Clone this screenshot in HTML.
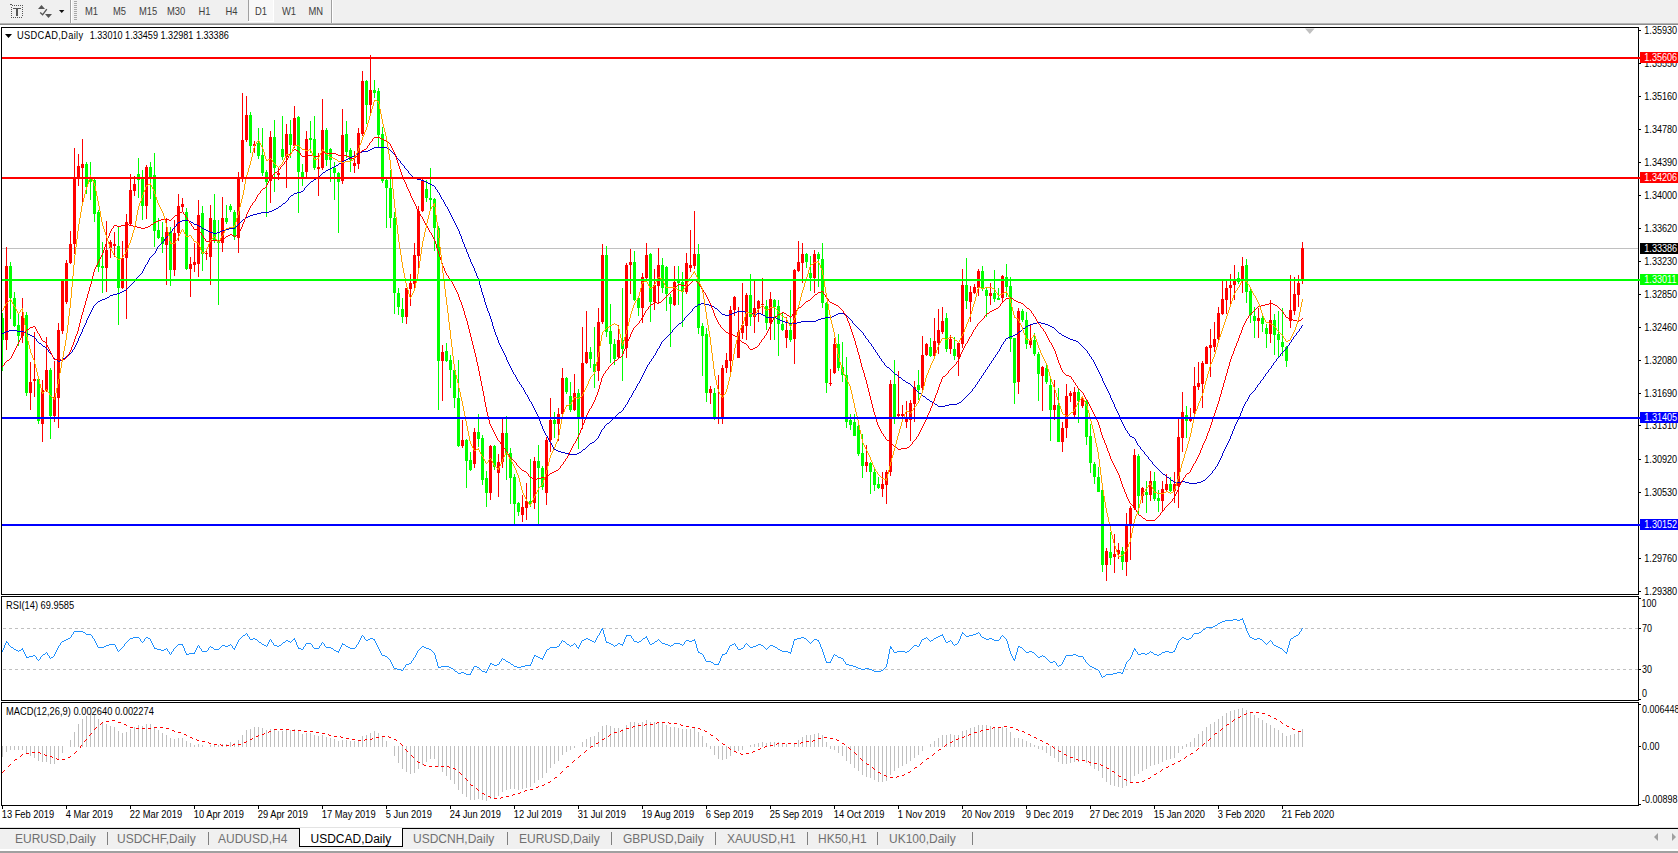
<!DOCTYPE html>
<html><head><meta charset="utf-8"><title>USDCAD,Daily</title>
<style>html,body{margin:0;padding:0;background:#fff;overflow:hidden}body{width:1678px;height:853px;position:relative;font-family:"Liberation Sans",sans-serif}</style>
</head><body>
<svg width="1678" height="853" viewBox="0 0 1678 853" style="position:absolute;left:0;top:0;display:block">
<g shape-rendering="crispEdges">
<rect x="0" y="0" width="1678" height="853" fill="#ffffff"/>
<rect x="0" y="0" width="1678" height="23" fill="#f0f0f0"/>
<rect x="0" y="23" width="1678" height="1" fill="#b4b4b4"/>
<rect x="0" y="24" width="1678" height="1" fill="#8c8c8c"/>
<rect x="0" y="25" width="1678" height="2" fill="#ffffff"/>
<rect x="0" y="827" width="1678" height="1" fill="#e3e3e3"/>
<rect x="0" y="828" width="1678" height="1" fill="#000000"/>
<rect x="0" y="829" width="1678" height="20" fill="#f0f0f0"/>
<rect x="0" y="849" width="1678" height="2" fill="#ffffff"/>
<rect x="0" y="851" width="1678" height="2" fill="#a0a0a0"/>
<clipPath id="cm"><rect x="2" y="28" width="1636" height="566"/></clipPath>
<g clip-path="url(#cm)">
<rect x="2" y="248" width="1636" height="1" fill="#c0c0c0"/>
<rect x="2" y="313" width="1" height="58" fill="#00ff00"/>
<rect x="1" y="318" width="3" height="22" fill="#00ff00"/>
<rect x="6" y="247" width="1" height="103" fill="#ff0000"/>
<rect x="5" y="266" width="3" height="74" fill="#ff0000"/>
<rect x="10" y="262" width="1" height="57" fill="#00ff00"/>
<rect x="9" y="266" width="3" height="32" fill="#00ff00"/>
<rect x="14" y="292" width="1" height="35" fill="#00ff00"/>
<rect x="13" y="298" width="3" height="28" fill="#00ff00"/>
<rect x="18" y="313" width="1" height="33" fill="#00ff00"/>
<rect x="17" y="325" width="3" height="11" fill="#00ff00"/>
<rect x="22" y="298" width="1" height="45" fill="#ff0000"/>
<rect x="21" y="316" width="3" height="20" fill="#ff0000"/>
<rect x="26" y="312" width="1" height="84" fill="#00ff00"/>
<rect x="25" y="315" width="3" height="78" fill="#00ff00"/>
<rect x="30" y="362" width="1" height="48" fill="#ff0000"/>
<rect x="29" y="382" width="3" height="11" fill="#ff0000"/>
<rect x="34" y="332" width="1" height="65" fill="#ff0000"/>
<rect x="33" y="379" width="3" height="2" fill="#ff0000"/>
<rect x="38" y="377" width="1" height="47" fill="#00ff00"/>
<rect x="37" y="379" width="3" height="42" fill="#00ff00"/>
<rect x="42" y="380" width="1" height="62" fill="#ff0000"/>
<rect x="41" y="390" width="3" height="34" fill="#ff0000"/>
<rect x="46" y="337" width="1" height="55" fill="#ff0000"/>
<rect x="45" y="370" width="3" height="20" fill="#ff0000"/>
<rect x="50" y="368" width="1" height="71" fill="#00ff00"/>
<rect x="49" y="370" width="3" height="46" fill="#00ff00"/>
<rect x="54" y="361" width="1" height="61" fill="#ff0000"/>
<rect x="53" y="397" width="3" height="19" fill="#ff0000"/>
<rect x="58" y="323" width="1" height="105" fill="#ff0000"/>
<rect x="57" y="330" width="3" height="68" fill="#ff0000"/>
<rect x="62" y="279" width="1" height="55" fill="#ff0000"/>
<rect x="61" y="280" width="3" height="51" fill="#ff0000"/>
<rect x="66" y="260" width="1" height="44" fill="#ff0000"/>
<rect x="65" y="263" width="3" height="39" fill="#ff0000"/>
<rect x="70" y="231" width="1" height="33" fill="#ff0000"/>
<rect x="69" y="244" width="3" height="19" fill="#ff0000"/>
<rect x="74" y="148" width="1" height="106" fill="#ff0000"/>
<rect x="73" y="177" width="3" height="67" fill="#ff0000"/>
<rect x="78" y="154" width="1" height="32" fill="#ff0000"/>
<rect x="77" y="166" width="3" height="13" fill="#ff0000"/>
<rect x="82" y="139" width="1" height="63" fill="#ff0000"/>
<rect x="81" y="164" width="3" height="4" fill="#ff0000"/>
<rect x="86" y="162" width="1" height="32" fill="#00ff00"/>
<rect x="85" y="164" width="3" height="23" fill="#00ff00"/>
<rect x="90" y="162" width="1" height="38" fill="#00ff00"/>
<rect x="89" y="177" width="3" height="5" fill="#00ff00"/>
<rect x="94" y="177" width="1" height="45" fill="#00ff00"/>
<rect x="93" y="180" width="3" height="34" fill="#00ff00"/>
<rect x="98" y="210" width="1" height="62" fill="#00ff00"/>
<rect x="97" y="212" width="3" height="55" fill="#00ff00"/>
<rect x="102" y="242" width="1" height="51" fill="#00ff00"/>
<rect x="101" y="266" width="3" height="2" fill="#00ff00"/>
<rect x="106" y="221" width="1" height="71" fill="#ff0000"/>
<rect x="105" y="250" width="3" height="18" fill="#ff0000"/>
<rect x="110" y="240" width="1" height="18" fill="#ff0000"/>
<rect x="109" y="242" width="3" height="6" fill="#ff0000"/>
<rect x="114" y="232" width="1" height="25" fill="#ff0000"/>
<rect x="113" y="244" width="3" height="2" fill="#ff0000"/>
<rect x="118" y="226" width="1" height="99" fill="#00ff00"/>
<rect x="117" y="246" width="3" height="42" fill="#00ff00"/>
<rect x="122" y="241" width="1" height="48" fill="#ff0000"/>
<rect x="121" y="258" width="3" height="30" fill="#ff0000"/>
<rect x="126" y="214" width="1" height="105" fill="#ff0000"/>
<rect x="125" y="222" width="3" height="36" fill="#ff0000"/>
<rect x="130" y="174" width="1" height="52" fill="#ff0000"/>
<rect x="129" y="190" width="3" height="34" fill="#ff0000"/>
<rect x="134" y="176" width="1" height="20" fill="#ff0000"/>
<rect x="133" y="184" width="3" height="7" fill="#ff0000"/>
<rect x="138" y="158" width="1" height="40" fill="#00ff00"/>
<rect x="137" y="174" width="3" height="6" fill="#00ff00"/>
<rect x="142" y="170" width="1" height="50" fill="#00ff00"/>
<rect x="141" y="178" width="3" height="28" fill="#00ff00"/>
<rect x="146" y="165" width="1" height="54" fill="#ff0000"/>
<rect x="145" y="167" width="3" height="39" fill="#ff0000"/>
<rect x="150" y="162" width="1" height="37" fill="#00ff00"/>
<rect x="149" y="167" width="3" height="10" fill="#00ff00"/>
<rect x="154" y="153" width="1" height="94" fill="#00ff00"/>
<rect x="153" y="175" width="3" height="56" fill="#00ff00"/>
<rect x="158" y="218" width="1" height="21" fill="#00ff00"/>
<rect x="157" y="230" width="3" height="8" fill="#00ff00"/>
<rect x="162" y="222" width="1" height="31" fill="#00ff00"/>
<rect x="161" y="237" width="3" height="7" fill="#00ff00"/>
<rect x="166" y="218" width="1" height="67" fill="#ff0000"/>
<rect x="165" y="232" width="3" height="13" fill="#ff0000"/>
<rect x="170" y="227" width="1" height="59" fill="#00ff00"/>
<rect x="169" y="232" width="3" height="38" fill="#00ff00"/>
<rect x="174" y="220" width="1" height="56" fill="#ff0000"/>
<rect x="173" y="233" width="3" height="37" fill="#ff0000"/>
<rect x="178" y="194" width="1" height="47" fill="#ff0000"/>
<rect x="177" y="206" width="3" height="27" fill="#ff0000"/>
<rect x="182" y="198" width="1" height="13" fill="#ff0000"/>
<rect x="181" y="204" width="3" height="3" fill="#ff0000"/>
<rect x="186" y="208" width="1" height="62" fill="#00ff00"/>
<rect x="185" y="212" width="3" height="57" fill="#00ff00"/>
<rect x="190" y="257" width="1" height="40" fill="#ff0000"/>
<rect x="189" y="264" width="3" height="5" fill="#ff0000"/>
<rect x="194" y="243" width="1" height="29" fill="#ff0000"/>
<rect x="193" y="262" width="3" height="3" fill="#ff0000"/>
<rect x="198" y="200" width="1" height="77" fill="#ff0000"/>
<rect x="197" y="215" width="3" height="49" fill="#ff0000"/>
<rect x="202" y="206" width="1" height="65" fill="#00ff00"/>
<rect x="201" y="213" width="3" height="41" fill="#00ff00"/>
<rect x="206" y="249" width="1" height="11" fill="#ff0000"/>
<rect x="205" y="253" width="3" height="1" fill="#ff0000"/>
<rect x="210" y="205" width="1" height="80" fill="#ff0000"/>
<rect x="209" y="218" width="3" height="39" fill="#ff0000"/>
<rect x="214" y="194" width="1" height="49" fill="#00ff00"/>
<rect x="213" y="220" width="3" height="21" fill="#00ff00"/>
<rect x="218" y="220" width="1" height="85" fill="#00ff00"/>
<rect x="217" y="240" width="3" height="3" fill="#00ff00"/>
<rect x="222" y="197" width="1" height="55" fill="#ff0000"/>
<rect x="221" y="218" width="3" height="25" fill="#ff0000"/>
<rect x="226" y="205" width="1" height="19" fill="#00ff00"/>
<rect x="225" y="218" width="3" height="4" fill="#00ff00"/>
<rect x="230" y="204" width="1" height="8" fill="#00ff00"/>
<rect x="229" y="206" width="3" height="4" fill="#00ff00"/>
<rect x="234" y="210" width="1" height="30" fill="#00ff00"/>
<rect x="233" y="212" width="3" height="25" fill="#00ff00"/>
<rect x="238" y="172" width="1" height="81" fill="#ff0000"/>
<rect x="237" y="178" width="3" height="60" fill="#ff0000"/>
<rect x="242" y="93" width="1" height="89" fill="#ff0000"/>
<rect x="241" y="140" width="3" height="39" fill="#ff0000"/>
<rect x="246" y="96" width="1" height="46" fill="#ff0000"/>
<rect x="245" y="115" width="3" height="25" fill="#ff0000"/>
<rect x="250" y="112" width="1" height="41" fill="#00ff00"/>
<rect x="249" y="115" width="3" height="31" fill="#00ff00"/>
<rect x="254" y="141" width="1" height="12" fill="#ff0000"/>
<rect x="253" y="144" width="3" height="2" fill="#ff0000"/>
<rect x="258" y="128" width="1" height="31" fill="#00ff00"/>
<rect x="257" y="143" width="3" height="13" fill="#00ff00"/>
<rect x="262" y="128" width="1" height="48" fill="#00ff00"/>
<rect x="261" y="155" width="3" height="18" fill="#00ff00"/>
<rect x="266" y="170" width="1" height="47" fill="#00ff00"/>
<rect x="265" y="172" width="3" height="10" fill="#00ff00"/>
<rect x="270" y="131" width="1" height="72" fill="#ff0000"/>
<rect x="269" y="137" width="3" height="44" fill="#ff0000"/>
<rect x="274" y="120" width="1" height="72" fill="#00ff00"/>
<rect x="273" y="137" width="3" height="31" fill="#00ff00"/>
<rect x="278" y="167" width="1" height="13" fill="#ff0000"/>
<rect x="277" y="173" width="3" height="2" fill="#ff0000"/>
<rect x="282" y="116" width="1" height="44" fill="#00ff00"/>
<rect x="281" y="149" width="3" height="8" fill="#00ff00"/>
<rect x="286" y="124" width="1" height="64" fill="#ff0000"/>
<rect x="285" y="134" width="3" height="23" fill="#ff0000"/>
<rect x="290" y="120" width="1" height="38" fill="#00ff00"/>
<rect x="289" y="134" width="3" height="11" fill="#00ff00"/>
<rect x="294" y="106" width="1" height="42" fill="#ff0000"/>
<rect x="293" y="118" width="3" height="28" fill="#ff0000"/>
<rect x="298" y="116" width="1" height="97" fill="#00ff00"/>
<rect x="297" y="117" width="3" height="55" fill="#00ff00"/>
<rect x="302" y="164" width="1" height="22" fill="#00ff00"/>
<rect x="301" y="172" width="3" height="5" fill="#00ff00"/>
<rect x="306" y="131" width="1" height="48" fill="#ff0000"/>
<rect x="305" y="139" width="3" height="33" fill="#ff0000"/>
<rect x="310" y="121" width="1" height="32" fill="#00ff00"/>
<rect x="309" y="138" width="3" height="2" fill="#00ff00"/>
<rect x="314" y="116" width="1" height="54" fill="#00ff00"/>
<rect x="313" y="139" width="3" height="29" fill="#00ff00"/>
<rect x="318" y="153" width="1" height="43" fill="#ff0000"/>
<rect x="317" y="167" width="3" height="2" fill="#ff0000"/>
<rect x="322" y="99" width="1" height="71" fill="#ff0000"/>
<rect x="321" y="130" width="3" height="38" fill="#ff0000"/>
<rect x="326" y="128" width="1" height="38" fill="#00ff00"/>
<rect x="325" y="130" width="3" height="30" fill="#00ff00"/>
<rect x="330" y="148" width="1" height="34" fill="#00ff00"/>
<rect x="329" y="149" width="3" height="11" fill="#00ff00"/>
<rect x="334" y="162" width="1" height="38" fill="#00ff00"/>
<rect x="333" y="168" width="3" height="5" fill="#00ff00"/>
<rect x="338" y="172" width="1" height="61" fill="#00ff00"/>
<rect x="337" y="173" width="3" height="9" fill="#00ff00"/>
<rect x="342" y="109" width="1" height="75" fill="#ff0000"/>
<rect x="341" y="135" width="3" height="46" fill="#ff0000"/>
<rect x="346" y="121" width="1" height="37" fill="#00ff00"/>
<rect x="345" y="134" width="3" height="18" fill="#00ff00"/>
<rect x="350" y="148" width="1" height="24" fill="#00ff00"/>
<rect x="349" y="150" width="3" height="10" fill="#00ff00"/>
<rect x="354" y="151" width="1" height="22" fill="#ff0000"/>
<rect x="353" y="163" width="3" height="3" fill="#ff0000"/>
<rect x="358" y="128" width="1" height="41" fill="#ff0000"/>
<rect x="357" y="133" width="3" height="31" fill="#ff0000"/>
<rect x="362" y="71" width="1" height="65" fill="#ff0000"/>
<rect x="361" y="81" width="3" height="53" fill="#ff0000"/>
<rect x="366" y="80" width="1" height="44" fill="#00ff00"/>
<rect x="365" y="81" width="3" height="24" fill="#00ff00"/>
<rect x="370" y="55" width="1" height="61" fill="#ff0000"/>
<rect x="369" y="90" width="3" height="15" fill="#ff0000"/>
<rect x="374" y="80" width="1" height="18" fill="#00ff00"/>
<rect x="373" y="90" width="3" height="3" fill="#00ff00"/>
<rect x="378" y="88" width="1" height="60" fill="#00ff00"/>
<rect x="377" y="91" width="3" height="44" fill="#00ff00"/>
<rect x="382" y="127" width="1" height="56" fill="#00ff00"/>
<rect x="381" y="134" width="3" height="47" fill="#00ff00"/>
<rect x="386" y="179" width="1" height="49" fill="#00ff00"/>
<rect x="385" y="180" width="3" height="8" fill="#00ff00"/>
<rect x="390" y="170" width="1" height="58" fill="#00ff00"/>
<rect x="389" y="188" width="3" height="30" fill="#00ff00"/>
<rect x="394" y="212" width="1" height="102" fill="#00ff00"/>
<rect x="393" y="218" width="3" height="75" fill="#00ff00"/>
<rect x="398" y="288" width="1" height="27" fill="#00ff00"/>
<rect x="397" y="293" width="3" height="14" fill="#00ff00"/>
<rect x="402" y="298" width="1" height="25" fill="#00ff00"/>
<rect x="401" y="309" width="3" height="8" fill="#00ff00"/>
<rect x="406" y="288" width="1" height="36" fill="#ff0000"/>
<rect x="405" y="288" width="3" height="29" fill="#ff0000"/>
<rect x="410" y="274" width="1" height="32" fill="#ff0000"/>
<rect x="409" y="283" width="3" height="6" fill="#ff0000"/>
<rect x="414" y="243" width="1" height="45" fill="#ff0000"/>
<rect x="413" y="255" width="3" height="29" fill="#ff0000"/>
<rect x="418" y="206" width="1" height="62" fill="#ff0000"/>
<rect x="417" y="211" width="3" height="45" fill="#ff0000"/>
<rect x="422" y="179" width="1" height="33" fill="#ff0000"/>
<rect x="421" y="180" width="3" height="31" fill="#ff0000"/>
<rect x="426" y="180" width="1" height="22" fill="#00ff00"/>
<rect x="425" y="189" width="3" height="9" fill="#00ff00"/>
<rect x="430" y="168" width="1" height="42" fill="#00ff00"/>
<rect x="429" y="198" width="3" height="2" fill="#00ff00"/>
<rect x="434" y="198" width="1" height="53" fill="#00ff00"/>
<rect x="433" y="199" width="3" height="29" fill="#00ff00"/>
<rect x="438" y="226" width="1" height="184" fill="#00ff00"/>
<rect x="437" y="228" width="3" height="133" fill="#00ff00"/>
<rect x="442" y="345" width="1" height="56" fill="#ff0000"/>
<rect x="441" y="352" width="3" height="9" fill="#ff0000"/>
<rect x="446" y="343" width="1" height="19" fill="#00ff00"/>
<rect x="445" y="351" width="3" height="10" fill="#00ff00"/>
<rect x="450" y="355" width="1" height="33" fill="#00ff00"/>
<rect x="449" y="360" width="3" height="10" fill="#00ff00"/>
<rect x="454" y="368" width="1" height="40" fill="#00ff00"/>
<rect x="453" y="370" width="3" height="28" fill="#00ff00"/>
<rect x="458" y="360" width="1" height="87" fill="#00ff00"/>
<rect x="457" y="398" width="3" height="48" fill="#00ff00"/>
<rect x="462" y="420" width="1" height="28" fill="#ff0000"/>
<rect x="461" y="440" width="3" height="6" fill="#ff0000"/>
<rect x="466" y="439" width="1" height="49" fill="#00ff00"/>
<rect x="465" y="440" width="3" height="21" fill="#00ff00"/>
<rect x="470" y="452" width="1" height="19" fill="#00ff00"/>
<rect x="469" y="460" width="3" height="10" fill="#00ff00"/>
<rect x="474" y="428" width="1" height="40" fill="#ff0000"/>
<rect x="473" y="432" width="3" height="32" fill="#ff0000"/>
<rect x="478" y="414" width="1" height="33" fill="#00ff00"/>
<rect x="477" y="432" width="3" height="7" fill="#00ff00"/>
<rect x="482" y="435" width="1" height="50" fill="#00ff00"/>
<rect x="481" y="438" width="3" height="42" fill="#00ff00"/>
<rect x="486" y="471" width="1" height="36" fill="#00ff00"/>
<rect x="485" y="478" width="3" height="15" fill="#00ff00"/>
<rect x="490" y="445" width="1" height="55" fill="#ff0000"/>
<rect x="489" y="446" width="3" height="47" fill="#ff0000"/>
<rect x="494" y="445" width="1" height="25" fill="#00ff00"/>
<rect x="493" y="446" width="3" height="21" fill="#00ff00"/>
<rect x="498" y="454" width="1" height="43" fill="#ff0000"/>
<rect x="497" y="462" width="3" height="11" fill="#ff0000"/>
<rect x="502" y="418" width="1" height="50" fill="#ff0000"/>
<rect x="501" y="433" width="3" height="29" fill="#ff0000"/>
<rect x="506" y="416" width="1" height="64" fill="#00ff00"/>
<rect x="505" y="433" width="3" height="20" fill="#00ff00"/>
<rect x="510" y="448" width="1" height="56" fill="#00ff00"/>
<rect x="509" y="453" width="3" height="25" fill="#00ff00"/>
<rect x="514" y="474" width="1" height="50" fill="#00ff00"/>
<rect x="513" y="477" width="3" height="27" fill="#00ff00"/>
<rect x="518" y="502" width="1" height="14" fill="#00ff00"/>
<rect x="517" y="503" width="3" height="9" fill="#00ff00"/>
<rect x="522" y="495" width="1" height="27" fill="#ff0000"/>
<rect x="521" y="507" width="3" height="8" fill="#ff0000"/>
<rect x="526" y="483" width="1" height="37" fill="#ff0000"/>
<rect x="525" y="501" width="3" height="7" fill="#ff0000"/>
<rect x="530" y="459" width="1" height="48" fill="#00ff00"/>
<rect x="529" y="501" width="3" height="3" fill="#00ff00"/>
<rect x="534" y="457" width="1" height="52" fill="#ff0000"/>
<rect x="533" y="461" width="3" height="42" fill="#ff0000"/>
<rect x="538" y="445" width="1" height="79" fill="#00ff00"/>
<rect x="537" y="461" width="3" height="7" fill="#00ff00"/>
<rect x="542" y="466" width="1" height="24" fill="#00ff00"/>
<rect x="541" y="468" width="3" height="19" fill="#00ff00"/>
<rect x="546" y="437" width="1" height="68" fill="#ff0000"/>
<rect x="545" y="440" width="3" height="53" fill="#ff0000"/>
<rect x="550" y="398" width="1" height="54" fill="#ff0000"/>
<rect x="549" y="420" width="3" height="20" fill="#ff0000"/>
<rect x="554" y="412" width="1" height="26" fill="#00ff00"/>
<rect x="553" y="420" width="3" height="4" fill="#00ff00"/>
<rect x="558" y="408" width="1" height="33" fill="#ff0000"/>
<rect x="557" y="414" width="3" height="10" fill="#ff0000"/>
<rect x="562" y="368" width="1" height="47" fill="#ff0000"/>
<rect x="561" y="378" width="3" height="36" fill="#ff0000"/>
<rect x="566" y="377" width="1" height="17" fill="#00ff00"/>
<rect x="565" y="378" width="3" height="14" fill="#00ff00"/>
<rect x="570" y="382" width="1" height="30" fill="#00ff00"/>
<rect x="569" y="396" width="3" height="14" fill="#00ff00"/>
<rect x="574" y="374" width="1" height="37" fill="#ff0000"/>
<rect x="573" y="393" width="3" height="17" fill="#ff0000"/>
<rect x="578" y="389" width="1" height="60" fill="#00ff00"/>
<rect x="577" y="393" width="3" height="24" fill="#00ff00"/>
<rect x="582" y="327" width="1" height="102" fill="#ff0000"/>
<rect x="581" y="363" width="3" height="55" fill="#ff0000"/>
<rect x="586" y="311" width="1" height="53" fill="#ff0000"/>
<rect x="585" y="352" width="3" height="11" fill="#ff0000"/>
<rect x="590" y="347" width="1" height="21" fill="#00ff00"/>
<rect x="589" y="352" width="3" height="7" fill="#00ff00"/>
<rect x="594" y="327" width="1" height="61" fill="#00ff00"/>
<rect x="593" y="364" width="3" height="8" fill="#00ff00"/>
<rect x="598" y="308" width="1" height="73" fill="#ff0000"/>
<rect x="597" y="322" width="3" height="49" fill="#ff0000"/>
<rect x="602" y="244" width="1" height="80" fill="#ff0000"/>
<rect x="601" y="255" width="3" height="67" fill="#ff0000"/>
<rect x="606" y="246" width="1" height="91" fill="#00ff00"/>
<rect x="605" y="255" width="3" height="77" fill="#00ff00"/>
<rect x="610" y="304" width="1" height="59" fill="#00ff00"/>
<rect x="609" y="331" width="3" height="13" fill="#00ff00"/>
<rect x="614" y="339" width="1" height="26" fill="#00ff00"/>
<rect x="613" y="344" width="3" height="15" fill="#00ff00"/>
<rect x="618" y="325" width="1" height="33" fill="#ff0000"/>
<rect x="617" y="340" width="3" height="17" fill="#ff0000"/>
<rect x="622" y="288" width="1" height="93" fill="#00ff00"/>
<rect x="621" y="340" width="3" height="9" fill="#00ff00"/>
<rect x="626" y="263" width="1" height="95" fill="#ff0000"/>
<rect x="625" y="265" width="3" height="83" fill="#ff0000"/>
<rect x="630" y="249" width="1" height="45" fill="#ff0000"/>
<rect x="629" y="262" width="3" height="3" fill="#ff0000"/>
<rect x="634" y="251" width="1" height="50" fill="#00ff00"/>
<rect x="633" y="262" width="3" height="38" fill="#00ff00"/>
<rect x="638" y="297" width="1" height="19" fill="#00ff00"/>
<rect x="637" y="298" width="3" height="10" fill="#00ff00"/>
<rect x="642" y="273" width="1" height="50" fill="#ff0000"/>
<rect x="641" y="277" width="3" height="31" fill="#ff0000"/>
<rect x="646" y="243" width="1" height="36" fill="#ff0000"/>
<rect x="645" y="255" width="3" height="23" fill="#ff0000"/>
<rect x="650" y="253" width="1" height="69" fill="#00ff00"/>
<rect x="649" y="254" width="3" height="48" fill="#00ff00"/>
<rect x="654" y="269" width="1" height="41" fill="#ff0000"/>
<rect x="653" y="285" width="3" height="17" fill="#ff0000"/>
<rect x="658" y="248" width="1" height="56" fill="#ff0000"/>
<rect x="657" y="265" width="3" height="21" fill="#ff0000"/>
<rect x="662" y="258" width="1" height="35" fill="#00ff00"/>
<rect x="661" y="265" width="3" height="23" fill="#00ff00"/>
<rect x="666" y="266" width="1" height="45" fill="#00ff00"/>
<rect x="665" y="267" width="3" height="27" fill="#00ff00"/>
<rect x="670" y="294" width="1" height="53" fill="#00ff00"/>
<rect x="669" y="297" width="3" height="7" fill="#00ff00"/>
<rect x="674" y="266" width="1" height="40" fill="#ff0000"/>
<rect x="673" y="282" width="3" height="23" fill="#ff0000"/>
<rect x="678" y="266" width="1" height="39" fill="#00ff00"/>
<rect x="677" y="281" width="3" height="2" fill="#00ff00"/>
<rect x="682" y="272" width="1" height="55" fill="#00ff00"/>
<rect x="681" y="282" width="3" height="10" fill="#00ff00"/>
<rect x="686" y="253" width="1" height="41" fill="#ff0000"/>
<rect x="685" y="263" width="3" height="29" fill="#ff0000"/>
<rect x="690" y="230" width="1" height="42" fill="#ff0000"/>
<rect x="689" y="265" width="3" height="3" fill="#ff0000"/>
<rect x="694" y="211" width="1" height="58" fill="#ff0000"/>
<rect x="693" y="254" width="3" height="12" fill="#ff0000"/>
<rect x="698" y="244" width="1" height="90" fill="#00ff00"/>
<rect x="697" y="254" width="3" height="74" fill="#00ff00"/>
<rect x="702" y="323" width="1" height="53" fill="#00ff00"/>
<rect x="701" y="326" width="3" height="10" fill="#00ff00"/>
<rect x="706" y="328" width="1" height="74" fill="#00ff00"/>
<rect x="705" y="334" width="3" height="59" fill="#00ff00"/>
<rect x="710" y="386" width="1" height="18" fill="#ff0000"/>
<rect x="709" y="389" width="3" height="4" fill="#ff0000"/>
<rect x="714" y="388" width="1" height="32" fill="#00ff00"/>
<rect x="713" y="393" width="3" height="26" fill="#00ff00"/>
<rect x="718" y="375" width="1" height="49" fill="#ff0000"/>
<rect x="717" y="418" width="3" height="1" fill="#ff0000"/>
<rect x="722" y="365" width="1" height="59" fill="#ff0000"/>
<rect x="721" y="368" width="3" height="51" fill="#ff0000"/>
<rect x="726" y="353" width="1" height="20" fill="#ff0000"/>
<rect x="725" y="360" width="3" height="8" fill="#ff0000"/>
<rect x="730" y="306" width="1" height="70" fill="#ff0000"/>
<rect x="729" y="310" width="3" height="51" fill="#ff0000"/>
<rect x="734" y="296" width="1" height="20" fill="#ff0000"/>
<rect x="733" y="297" width="3" height="13" fill="#ff0000"/>
<rect x="738" y="307" width="1" height="51" fill="#ff0000"/>
<rect x="737" y="332" width="3" height="26" fill="#ff0000"/>
<rect x="742" y="283" width="1" height="56" fill="#ff0000"/>
<rect x="741" y="325" width="3" height="8" fill="#ff0000"/>
<rect x="746" y="293" width="1" height="47" fill="#ff0000"/>
<rect x="745" y="295" width="3" height="31" fill="#ff0000"/>
<rect x="750" y="274" width="1" height="52" fill="#00ff00"/>
<rect x="749" y="295" width="3" height="22" fill="#00ff00"/>
<rect x="754" y="281" width="1" height="52" fill="#ff0000"/>
<rect x="753" y="308" width="3" height="9" fill="#ff0000"/>
<rect x="758" y="300" width="1" height="22" fill="#ff0000"/>
<rect x="757" y="301" width="3" height="8" fill="#ff0000"/>
<rect x="762" y="278" width="1" height="36" fill="#ff0000"/>
<rect x="761" y="304" width="3" height="1" fill="#ff0000"/>
<rect x="766" y="300" width="1" height="30" fill="#00ff00"/>
<rect x="765" y="306" width="3" height="17" fill="#00ff00"/>
<rect x="770" y="292" width="1" height="48" fill="#ff0000"/>
<rect x="769" y="299" width="3" height="24" fill="#ff0000"/>
<rect x="774" y="299" width="1" height="41" fill="#00ff00"/>
<rect x="773" y="300" width="3" height="7" fill="#00ff00"/>
<rect x="778" y="300" width="1" height="56" fill="#00ff00"/>
<rect x="777" y="306" width="3" height="18" fill="#00ff00"/>
<rect x="782" y="313" width="1" height="18" fill="#00ff00"/>
<rect x="781" y="324" width="3" height="6" fill="#00ff00"/>
<rect x="786" y="317" width="1" height="31" fill="#ff0000"/>
<rect x="785" y="330" width="3" height="8" fill="#ff0000"/>
<rect x="790" y="290" width="1" height="52" fill="#00ff00"/>
<rect x="789" y="330" width="3" height="10" fill="#00ff00"/>
<rect x="794" y="269" width="1" height="95" fill="#ff0000"/>
<rect x="793" y="270" width="3" height="69" fill="#ff0000"/>
<rect x="798" y="241" width="1" height="31" fill="#ff0000"/>
<rect x="797" y="262" width="3" height="9" fill="#ff0000"/>
<rect x="802" y="243" width="1" height="40" fill="#ff0000"/>
<rect x="801" y="254" width="3" height="9" fill="#ff0000"/>
<rect x="806" y="253" width="1" height="15" fill="#00ff00"/>
<rect x="805" y="254" width="3" height="8" fill="#00ff00"/>
<rect x="810" y="256" width="1" height="35" fill="#00ff00"/>
<rect x="809" y="273" width="3" height="5" fill="#00ff00"/>
<rect x="814" y="250" width="1" height="43" fill="#ff0000"/>
<rect x="813" y="254" width="3" height="24" fill="#ff0000"/>
<rect x="818" y="252" width="1" height="35" fill="#00ff00"/>
<rect x="817" y="254" width="3" height="5" fill="#00ff00"/>
<rect x="822" y="243" width="1" height="65" fill="#00ff00"/>
<rect x="821" y="259" width="3" height="44" fill="#00ff00"/>
<rect x="826" y="302" width="1" height="91" fill="#00ff00"/>
<rect x="825" y="303" width="3" height="80" fill="#00ff00"/>
<rect x="830" y="369" width="1" height="17" fill="#ff0000"/>
<rect x="829" y="383" width="3" height="1" fill="#ff0000"/>
<rect x="834" y="338" width="1" height="36" fill="#ff0000"/>
<rect x="833" y="344" width="3" height="29" fill="#ff0000"/>
<rect x="838" y="334" width="1" height="37" fill="#00ff00"/>
<rect x="837" y="344" width="3" height="24" fill="#00ff00"/>
<rect x="842" y="342" width="1" height="40" fill="#00ff00"/>
<rect x="841" y="367" width="3" height="8" fill="#00ff00"/>
<rect x="846" y="357" width="1" height="71" fill="#00ff00"/>
<rect x="845" y="375" width="3" height="47" fill="#00ff00"/>
<rect x="850" y="414" width="1" height="16" fill="#00ff00"/>
<rect x="849" y="420" width="3" height="5" fill="#00ff00"/>
<rect x="854" y="414" width="1" height="22" fill="#00ff00"/>
<rect x="853" y="422" width="3" height="14" fill="#00ff00"/>
<rect x="858" y="424" width="1" height="32" fill="#00ff00"/>
<rect x="857" y="426" width="3" height="28" fill="#00ff00"/>
<rect x="862" y="434" width="1" height="44" fill="#00ff00"/>
<rect x="861" y="453" width="3" height="13" fill="#00ff00"/>
<rect x="866" y="445" width="1" height="27" fill="#ff0000"/>
<rect x="865" y="462" width="3" height="4" fill="#ff0000"/>
<rect x="870" y="462" width="1" height="32" fill="#00ff00"/>
<rect x="869" y="463" width="3" height="9" fill="#00ff00"/>
<rect x="874" y="468" width="1" height="23" fill="#00ff00"/>
<rect x="873" y="472" width="3" height="13" fill="#00ff00"/>
<rect x="878" y="477" width="1" height="12" fill="#00ff00"/>
<rect x="877" y="484" width="3" height="4" fill="#00ff00"/>
<rect x="882" y="472" width="1" height="25" fill="#ff0000"/>
<rect x="881" y="484" width="3" height="5" fill="#ff0000"/>
<rect x="886" y="470" width="1" height="34" fill="#ff0000"/>
<rect x="885" y="472" width="3" height="13" fill="#ff0000"/>
<rect x="890" y="380" width="1" height="96" fill="#ff0000"/>
<rect x="889" y="384" width="3" height="88" fill="#ff0000"/>
<rect x="894" y="360" width="1" height="64" fill="#00ff00"/>
<rect x="893" y="384" width="3" height="33" fill="#00ff00"/>
<rect x="898" y="371" width="1" height="46" fill="#ff0000"/>
<rect x="897" y="414" width="3" height="2" fill="#ff0000"/>
<rect x="902" y="405" width="1" height="12" fill="#ff0000"/>
<rect x="901" y="414" width="3" height="2" fill="#ff0000"/>
<rect x="906" y="401" width="1" height="27" fill="#ff0000"/>
<rect x="905" y="418" width="3" height="4" fill="#ff0000"/>
<rect x="910" y="400" width="1" height="41" fill="#ff0000"/>
<rect x="909" y="403" width="3" height="17" fill="#ff0000"/>
<rect x="914" y="381" width="1" height="41" fill="#ff0000"/>
<rect x="913" y="387" width="3" height="17" fill="#ff0000"/>
<rect x="918" y="370" width="1" height="30" fill="#00ff00"/>
<rect x="917" y="385" width="3" height="5" fill="#00ff00"/>
<rect x="922" y="336" width="1" height="54" fill="#ff0000"/>
<rect x="921" y="355" width="3" height="33" fill="#ff0000"/>
<rect x="926" y="343" width="1" height="13" fill="#ff0000"/>
<rect x="925" y="344" width="3" height="11" fill="#ff0000"/>
<rect x="930" y="338" width="1" height="19" fill="#00ff00"/>
<rect x="929" y="347" width="3" height="9" fill="#00ff00"/>
<rect x="934" y="318" width="1" height="38" fill="#ff0000"/>
<rect x="933" y="341" width="3" height="15" fill="#ff0000"/>
<rect x="938" y="309" width="1" height="45" fill="#ff0000"/>
<rect x="937" y="330" width="3" height="13" fill="#ff0000"/>
<rect x="942" y="307" width="1" height="27" fill="#ff0000"/>
<rect x="941" y="321" width="3" height="11" fill="#ff0000"/>
<rect x="946" y="313" width="1" height="39" fill="#00ff00"/>
<rect x="945" y="318" width="3" height="31" fill="#00ff00"/>
<rect x="950" y="335" width="1" height="19" fill="#ff0000"/>
<rect x="949" y="339" width="3" height="10" fill="#ff0000"/>
<rect x="954" y="337" width="1" height="23" fill="#00ff00"/>
<rect x="953" y="349" width="3" height="7" fill="#00ff00"/>
<rect x="958" y="342" width="1" height="34" fill="#ff0000"/>
<rect x="957" y="343" width="3" height="14" fill="#ff0000"/>
<rect x="962" y="269" width="1" height="79" fill="#ff0000"/>
<rect x="961" y="285" width="3" height="59" fill="#ff0000"/>
<rect x="966" y="258" width="1" height="51" fill="#00ff00"/>
<rect x="965" y="285" width="3" height="16" fill="#00ff00"/>
<rect x="970" y="286" width="1" height="36" fill="#ff0000"/>
<rect x="969" y="292" width="3" height="10" fill="#ff0000"/>
<rect x="974" y="284" width="1" height="10" fill="#ff0000"/>
<rect x="973" y="287" width="3" height="6" fill="#ff0000"/>
<rect x="978" y="269" width="1" height="27" fill="#ff0000"/>
<rect x="977" y="271" width="3" height="17" fill="#ff0000"/>
<rect x="982" y="266" width="1" height="25" fill="#00ff00"/>
<rect x="981" y="271" width="3" height="17" fill="#00ff00"/>
<rect x="986" y="288" width="1" height="29" fill="#00ff00"/>
<rect x="985" y="290" width="3" height="6" fill="#00ff00"/>
<rect x="990" y="283" width="1" height="22" fill="#ff0000"/>
<rect x="989" y="293" width="3" height="3" fill="#ff0000"/>
<rect x="994" y="270" width="1" height="32" fill="#00ff00"/>
<rect x="993" y="293" width="3" height="6" fill="#00ff00"/>
<rect x="998" y="288" width="1" height="12" fill="#00ff00"/>
<rect x="997" y="298" width="3" height="2" fill="#00ff00"/>
<rect x="1002" y="275" width="1" height="27" fill="#ff0000"/>
<rect x="1001" y="276" width="3" height="22" fill="#ff0000"/>
<rect x="1006" y="264" width="1" height="33" fill="#00ff00"/>
<rect x="1005" y="277" width="3" height="10" fill="#00ff00"/>
<rect x="1010" y="277" width="1" height="75" fill="#00ff00"/>
<rect x="1009" y="286" width="3" height="53" fill="#00ff00"/>
<rect x="1014" y="338" width="1" height="66" fill="#00ff00"/>
<rect x="1013" y="338" width="3" height="45" fill="#00ff00"/>
<rect x="1018" y="308" width="1" height="86" fill="#ff0000"/>
<rect x="1017" y="311" width="3" height="71" fill="#ff0000"/>
<rect x="1022" y="309" width="1" height="13" fill="#00ff00"/>
<rect x="1021" y="311" width="3" height="9" fill="#00ff00"/>
<rect x="1026" y="312" width="1" height="37" fill="#00ff00"/>
<rect x="1025" y="320" width="3" height="24" fill="#00ff00"/>
<rect x="1030" y="325" width="1" height="23" fill="#ff0000"/>
<rect x="1029" y="340" width="3" height="5" fill="#ff0000"/>
<rect x="1034" y="333" width="1" height="23" fill="#00ff00"/>
<rect x="1033" y="340" width="3" height="14" fill="#00ff00"/>
<rect x="1038" y="352" width="1" height="49" fill="#00ff00"/>
<rect x="1037" y="354" width="3" height="20" fill="#00ff00"/>
<rect x="1042" y="366" width="1" height="45" fill="#ff0000"/>
<rect x="1041" y="367" width="3" height="9" fill="#ff0000"/>
<rect x="1046" y="364" width="1" height="20" fill="#00ff00"/>
<rect x="1045" y="368" width="3" height="14" fill="#00ff00"/>
<rect x="1050" y="379" width="1" height="62" fill="#00ff00"/>
<rect x="1049" y="385" width="3" height="25" fill="#00ff00"/>
<rect x="1054" y="380" width="1" height="40" fill="#ff0000"/>
<rect x="1053" y="405" width="3" height="5" fill="#ff0000"/>
<rect x="1058" y="388" width="1" height="54" fill="#00ff00"/>
<rect x="1057" y="405" width="3" height="37" fill="#00ff00"/>
<rect x="1062" y="422" width="1" height="30" fill="#ff0000"/>
<rect x="1061" y="428" width="3" height="14" fill="#ff0000"/>
<rect x="1066" y="384" width="1" height="54" fill="#ff0000"/>
<rect x="1065" y="396" width="3" height="32" fill="#ff0000"/>
<rect x="1070" y="391" width="1" height="11" fill="#ff0000"/>
<rect x="1069" y="393" width="3" height="3" fill="#ff0000"/>
<rect x="1074" y="387" width="1" height="30" fill="#ff0000"/>
<rect x="1073" y="392" width="3" height="23" fill="#ff0000"/>
<rect x="1078" y="388" width="1" height="35" fill="#00ff00"/>
<rect x="1077" y="392" width="3" height="9" fill="#00ff00"/>
<rect x="1082" y="396" width="1" height="12" fill="#ff0000"/>
<rect x="1081" y="399" width="3" height="7" fill="#ff0000"/>
<rect x="1086" y="399" width="1" height="46" fill="#00ff00"/>
<rect x="1085" y="401" width="3" height="36" fill="#00ff00"/>
<rect x="1090" y="424" width="1" height="49" fill="#00ff00"/>
<rect x="1089" y="436" width="3" height="27" fill="#00ff00"/>
<rect x="1094" y="462" width="1" height="22" fill="#00ff00"/>
<rect x="1093" y="464" width="3" height="13" fill="#00ff00"/>
<rect x="1098" y="467" width="1" height="25" fill="#00ff00"/>
<rect x="1097" y="477" width="3" height="15" fill="#00ff00"/>
<rect x="1102" y="489" width="1" height="83" fill="#00ff00"/>
<rect x="1101" y="490" width="3" height="75" fill="#00ff00"/>
<rect x="1106" y="548" width="1" height="33" fill="#ff0000"/>
<rect x="1105" y="551" width="3" height="14" fill="#ff0000"/>
<rect x="1110" y="532" width="1" height="33" fill="#00ff00"/>
<rect x="1109" y="552" width="3" height="6" fill="#00ff00"/>
<rect x="1114" y="534" width="1" height="39" fill="#ff0000"/>
<rect x="1113" y="554" width="3" height="3" fill="#ff0000"/>
<rect x="1118" y="543" width="1" height="16" fill="#ff0000"/>
<rect x="1117" y="550" width="3" height="4" fill="#ff0000"/>
<rect x="1122" y="547" width="1" height="23" fill="#00ff00"/>
<rect x="1121" y="551" width="3" height="11" fill="#00ff00"/>
<rect x="1126" y="513" width="1" height="63" fill="#ff0000"/>
<rect x="1125" y="524" width="3" height="38" fill="#ff0000"/>
<rect x="1130" y="506" width="1" height="54" fill="#ff0000"/>
<rect x="1129" y="508" width="3" height="18" fill="#ff0000"/>
<rect x="1134" y="449" width="1" height="61" fill="#ff0000"/>
<rect x="1133" y="455" width="3" height="53" fill="#ff0000"/>
<rect x="1138" y="454" width="1" height="60" fill="#00ff00"/>
<rect x="1137" y="456" width="3" height="40" fill="#00ff00"/>
<rect x="1142" y="487" width="1" height="16" fill="#ff0000"/>
<rect x="1141" y="488" width="3" height="8" fill="#ff0000"/>
<rect x="1146" y="481" width="1" height="32" fill="#00ff00"/>
<rect x="1145" y="492" width="3" height="3" fill="#00ff00"/>
<rect x="1150" y="471" width="1" height="30" fill="#ff0000"/>
<rect x="1149" y="481" width="3" height="14" fill="#ff0000"/>
<rect x="1154" y="472" width="1" height="29" fill="#00ff00"/>
<rect x="1153" y="481" width="3" height="18" fill="#00ff00"/>
<rect x="1158" y="490" width="1" height="22" fill="#00ff00"/>
<rect x="1157" y="498" width="3" height="3" fill="#00ff00"/>
<rect x="1162" y="481" width="1" height="30" fill="#ff0000"/>
<rect x="1161" y="489" width="3" height="12" fill="#ff0000"/>
<rect x="1166" y="474" width="1" height="18" fill="#ff0000"/>
<rect x="1165" y="484" width="3" height="6" fill="#ff0000"/>
<rect x="1170" y="477" width="1" height="15" fill="#00ff00"/>
<rect x="1169" y="484" width="3" height="7" fill="#00ff00"/>
<rect x="1174" y="472" width="1" height="31" fill="#ff0000"/>
<rect x="1173" y="484" width="3" height="7" fill="#ff0000"/>
<rect x="1178" y="418" width="1" height="90" fill="#ff0000"/>
<rect x="1177" y="437" width="3" height="49" fill="#ff0000"/>
<rect x="1182" y="392" width="1" height="60" fill="#ff0000"/>
<rect x="1181" y="412" width="3" height="26" fill="#ff0000"/>
<rect x="1186" y="406" width="1" height="32" fill="#00ff00"/>
<rect x="1185" y="415" width="3" height="6" fill="#00ff00"/>
<rect x="1190" y="408" width="1" height="14" fill="#ff0000"/>
<rect x="1189" y="419" width="3" height="2" fill="#ff0000"/>
<rect x="1194" y="367" width="1" height="47" fill="#ff0000"/>
<rect x="1193" y="386" width="3" height="27" fill="#ff0000"/>
<rect x="1198" y="362" width="1" height="28" fill="#ff0000"/>
<rect x="1197" y="383" width="3" height="4" fill="#ff0000"/>
<rect x="1202" y="361" width="1" height="47" fill="#ff0000"/>
<rect x="1201" y="363" width="3" height="21" fill="#ff0000"/>
<rect x="1206" y="346" width="1" height="18" fill="#ff0000"/>
<rect x="1205" y="347" width="3" height="17" fill="#ff0000"/>
<rect x="1210" y="329" width="1" height="48" fill="#ff0000"/>
<rect x="1209" y="345" width="3" height="3" fill="#ff0000"/>
<rect x="1214" y="322" width="1" height="30" fill="#ff0000"/>
<rect x="1213" y="339" width="3" height="8" fill="#ff0000"/>
<rect x="1218" y="307" width="1" height="33" fill="#ff0000"/>
<rect x="1217" y="313" width="3" height="26" fill="#ff0000"/>
<rect x="1222" y="281" width="1" height="34" fill="#ff0000"/>
<rect x="1221" y="299" width="3" height="15" fill="#ff0000"/>
<rect x="1226" y="281" width="1" height="33" fill="#ff0000"/>
<rect x="1225" y="288" width="3" height="12" fill="#ff0000"/>
<rect x="1230" y="274" width="1" height="30" fill="#ff0000"/>
<rect x="1229" y="285" width="3" height="3" fill="#ff0000"/>
<rect x="1234" y="265" width="1" height="35" fill="#ff0000"/>
<rect x="1233" y="281" width="3" height="4" fill="#ff0000"/>
<rect x="1238" y="272" width="1" height="12" fill="#00ff00"/>
<rect x="1237" y="278" width="3" height="4" fill="#00ff00"/>
<rect x="1242" y="257" width="1" height="36" fill="#ff0000"/>
<rect x="1241" y="266" width="3" height="15" fill="#ff0000"/>
<rect x="1246" y="259" width="1" height="44" fill="#00ff00"/>
<rect x="1245" y="265" width="3" height="27" fill="#00ff00"/>
<rect x="1250" y="289" width="1" height="34" fill="#00ff00"/>
<rect x="1249" y="291" width="3" height="24" fill="#00ff00"/>
<rect x="1254" y="307" width="1" height="31" fill="#00ff00"/>
<rect x="1253" y="316" width="3" height="5" fill="#00ff00"/>
<rect x="1258" y="308" width="1" height="30" fill="#ff0000"/>
<rect x="1257" y="318" width="3" height="3" fill="#ff0000"/>
<rect x="1262" y="316" width="1" height="16" fill="#00ff00"/>
<rect x="1261" y="318" width="3" height="6" fill="#00ff00"/>
<rect x="1266" y="324" width="1" height="24" fill="#00ff00"/>
<rect x="1265" y="328" width="3" height="6" fill="#00ff00"/>
<rect x="1270" y="300" width="1" height="43" fill="#ff0000"/>
<rect x="1269" y="320" width="3" height="14" fill="#ff0000"/>
<rect x="1274" y="314" width="1" height="41" fill="#00ff00"/>
<rect x="1273" y="320" width="3" height="15" fill="#00ff00"/>
<rect x="1278" y="311" width="1" height="46" fill="#00ff00"/>
<rect x="1277" y="334" width="3" height="6" fill="#00ff00"/>
<rect x="1282" y="308" width="1" height="48" fill="#00ff00"/>
<rect x="1281" y="342" width="3" height="5" fill="#00ff00"/>
<rect x="1286" y="346" width="1" height="21" fill="#00ff00"/>
<rect x="1285" y="347" width="3" height="14" fill="#00ff00"/>
<rect x="1290" y="275" width="1" height="53" fill="#ff0000"/>
<rect x="1289" y="310" width="3" height="11" fill="#ff0000"/>
<rect x="1294" y="277" width="1" height="38" fill="#ff0000"/>
<rect x="1293" y="294" width="3" height="17" fill="#ff0000"/>
<rect x="1298" y="275" width="1" height="32" fill="#ff0000"/>
<rect x="1297" y="283" width="3" height="12" fill="#ff0000"/>
<rect x="1302" y="242" width="1" height="42" fill="#ff0000"/>
<rect x="1301" y="248" width="3" height="31" fill="#ff0000"/>
<path d="M326 170.5h2M1028 325.5h2M1048 325.5h2M734 312.5h3M745 312.5h4M957 403.5h2M903 380.5h2M274 209.5h2M348 158.5h2M679 323.5h2M789 323.5h8M1033 323.5h4M1041 323.5h4M297 192.5h4M344 160.5h2M1132 437.5h2M39 343.5h2M9 330.5h8M2 333.5h2M26 333.5h2M1059 333.5h2M206 230.5h2M222 230.5h3M63 358.5h2M1026 326.5h2M1050 326.5h2M261 212.5h8M1130 436.5h2M124 290.5h2M1008 337.5h2M1066 337.5h2M250 215.5h3M283 203.5h2M4 332.5h2M24 332.5h2M1070 339.5h3M887 367.5h2M1073 340.5h3M374 147.5h13M55 359.5h2M899 377.5h2M1006 338.5h2M1068 338.5h2M737 311.5h8M208 231.5h2M220 231.5h2M32 336.5h2M1010 336.5h3M1064 336.5h2M246 217.5h2M923 396.5h2M362 151.5h6M421 180.5h3M554 449.5h2M583 449.5h2M766 317.5h10M825 317.5h7M695 306.5h2M712 306.5h2M430 184.5h2M785 322.5h4M797 322.5h4M1037 322.5h4M732 313.5h2M749 313.5h4M757 313.5h4M838 313.5h6M782 321.5h3M801 321.5h15M342 161.5h2M332 167.5h2M30 335.5h2M1013 335.5h2M1062 335.5h2M906 382.5h2M780 320.5h2M816 320.5h2M6 331.5h3M17 331.5h7M1019 331.5h2M1174 482.5h7M1185 482.5h4M1197 482.5h4M722 314.5h3M729 314.5h3M753 314.5h4M761 314.5h2M836 314.5h2M844 314.5h2M339 163.5h2M932 402.5h2M959 402.5h2M778 319.5h2M818 319.5h3M607 423.5h2M919 393.5h2M945 405.5h4M122 291.5h2M569 454.5h8M698 304.5h3M705 304.5h4M117 293.5h3M935 404.5h2M949 404.5h8M908 383.5h2M1076 341.5h2M927 399.5h2M107 297.5h2M1030 324.5h3M1045 324.5h3M1052 327.5h2M938 406.5h7M213 233.5h4M199 226.5h2M178 222.5h2M191 222.5h2M1181 481.5h4M1201 481.5h2M257 213.5h4M1171 480.5h2M1203 480.5h2M328 169.5h2M725 315.5h4M763 315.5h2M834 315.5h2M356 154.5h2M248 216.5h2M428 183.5h2M28 334.5h2M1015 334.5h2M619 412.5h2M895 374.5h2M832 316.5h2M334 166.5h2M930 401.5h2M60 360.5h2M1189 483.5h8M58 361.5h2M311 181.5h2M424 181.5h2M556 450.5h2M776 318.5h2M821 318.5h4M590 443.5h2M336 165.5h2M204 229.5h2M225 229.5h4M197 225.5h2M180 221.5h2M189 221.5h2M110 295.5h3M715 308.5h2M709 305.5h3M67 355.5h2M43 346.5h2M272 210.5h2M346 159.5h2M294 193.5h3M105 298.5h2M1023 328.5h2M368 150.5h2M120 292.5h2M202 228.5h2M229 228.5h6M565 453.5h4M577 453.5h2M279 206.5h2M243 219.5h2M194 224.5h3M354 155.5h2M113 294.5h4M432 185.5h2M426 182.5h2M561 452.5h4M579 452.5h2M269 211.5h3M558 451.5h3M276 208.5h2M182 220.5h7M98 301.5h2M372 148.5h2M387 148.5h2M1167 477.5h2M352 156.5h2M330 168.5h2M253 214.5h4M1163 474.5h2M210 232.5h3M217 232.5h3M358 153.5h2M323 172.5h2M102 299.5h3M370 149.5h2M316 178.5h2M414 178.5h3M314 179.5h2M417 179.5h4M701 303.5h4M592 442.5h2M291 195.5h2M100 300.5h2M350 157.5h2M360 152.5h2M301 191.5h2M1254.5 390v1M535.5 410v2M152.5 255v1M503.5 351v2M663.5 340v1M1281.5 353v1M89.5 314v2M141.5 273v1M1266.5 373v1M1120.5 417v3M450.5 213v2M642.5 375v2M1102.5 378v3M1238.5 418v2M934.5 403v1M1225.5 447v2M517.5 379v2M1000.5 347v2M402.5 164v1M1205.5 479v1M499.5 343v2M977.5 382v2M720.5 312v1M1142.5 450v1M1054.5 328v1M168.5 234v2M528.5 397v2M1098.5 370v2M492.5 322v4M678.5 324v1M136.5 278v2M435.5 187v2M1087.5 351v2M139.5 275v1M236.5 226v1M721.5 313v1M513.5 372v2M485.5 302v3M521.5 385v2M890.5 369v1M603.5 428v1M1218.5 462v2M1055.5 329v1M1095.5 364v2M868.5 340v2M659.5 346v2M542.5 426v3M1230.5 436v3M682.5 321v1M1088.5 353v1M1289.5 343v2M467.5 252v2M849.5 318v1M618.5 413v1M1091.5 357v2M495.5 332v3M1109.5 393v2M1301.5 326v2M478.5 278v3M488.5 311v2M622.5 410v1M1153.5 464v1M36.5 339v2M77.5 341v2M489.5 313v3M599.5 434v2M538.5 416v3M646.5 367v2M693.5 308v1M655.5 353v2M1106.5 387v2M481.5 288v4M453.5 219v2M1229.5 439v2M886.5 366v1M1079.5 343v1M1245.5 402v2M670.5 333v1M474.5 268v3M993.5 358v2M1257.5 385v2M502.5 349v2M889.5 368v1M1116.5 409v2M629.5 398v2M1080.5 344v1M1269.5 369v1M449.5 211v2M1101.5 376v2M594.5 441v1M964.5 398v1M1160.5 471v1M1212.5 471v2M653.5 356v2M901.5 378v1M516.5 377v2M524.5 390v2M144.5 267v2M1249.5 395v2M915.5 389v1M471.5 262v2M1152.5 462v2M926.5 398v1M980.5 378v1M1237.5 420v2M306.5 186v1M1297.5 332v1M520.5 384v1M867.5 339v1M81.5 332v2M510.5 366v2M625.5 405v2M93.5 306v2M163.5 241v1M466.5 249v3M1108.5 391v2M148.5 260v2M494.5 329v3M881.5 359v2M649.5 362v2M281.5 205v1M871.5 344v2M487.5 308v3M641.5 377v2M1119.5 415v2M987.5 367v2M35.5 338v1M673.5 329v1M1159.5 470v1M534.5 408v2M131.5 284v1M155.5 251v2M996.5 354v1M885.5 365v1M999.5 349v2M697.5 305v1M201.5 227v1M65.5 357v1M401.5 163v1M1170.5 479v1M1272.5 365v1M452.5 217v2M613.5 418v1M498.5 340v3M69.5 354v1M473.5 266v2M171.5 231v1M645.5 369v2M527.5 395v2M445.5 204v2M309.5 183v1M491.5 319v3M1220.5 458v2M971.5 391v1M531.5 402v2M1285.5 349v1M1288.5 345v1M637.5 384v2M1003.5 342v2M983.5 373v2M606.5 424v1M512.5 370v2M128.5 287v1M484.5 298v4M313.5 180v1M1145.5 454v1M523.5 388v2M1300.5 328v1M541.5 424v2M290.5 196v1M685.5 317v1M1209.5 475v1M610.5 421v1M76.5 343v2M460.5 234v2M1280.5 354v2M1094.5 362v2M46.5 348v1M665.5 338v1M968.5 394v1M240.5 222v1M601.5 430v2M412.5 176v1M509.5 364v2M633.5 391v2M285.5 202v1M1105.5 385v2M1265.5 374v2M84.5 325v2M151.5 256v1M852.5 321v2M1277.5 358v1M72.5 350v2M921.5 394v1M1224.5 449v2M174.5 227v1M1061.5 334v1M400.5 161v2M448.5 209v2M1248.5 397v2M922.5 395v1M1260.5 381v2M158.5 246v1M441.5 197v2M632.5 393v2M1115.5 407v2M404.5 166v2M462.5 239v3M1022.5 329v1M80.5 334v2M1144.5 452v2M411.5 175v1M470.5 259v3M135.5 280v1M530.5 401v1M434.5 186v1M1086.5 350v1M511.5 368v2M598.5 436v2M42.5 345v1M519.5 382v2M859.5 329v1M147.5 262v2M692.5 309v2M540.5 421v3M1097.5 368v2M1232.5 431v3M321.5 174v1M1244.5 404v2M96.5 303v1M1090.5 356v1M1166.5 476v1M34.5 337v1M892.5 371v1M88.5 316v2M154.5 253v1M459.5 231v3M870.5 343v1M628.5 400v2M995.5 355v2M1268.5 370v2M1271.5 366v2M304.5 188v2M477.5 276v2M884.5 363v2M393.5 153v1M288.5 198v2M1207.5 477v1M143.5 269v2M49.5 352v1M319.5 176v1M644.5 371v2M1219.5 460v2M1104.5 383v2M660.5 344v2M1155.5 466v1M1231.5 434v2M979.5 379v2M1296.5 333v2M501.5 347v2M75.5 345v2M41.5 344v1M444.5 202v2M858.5 328v1M1118.5 413v2M910.5 384v1M684.5 318v2M235.5 227v1M963.5 399v1M1291.5 340v2M533.5 406v2M437.5 190v2M1236.5 422v2M891.5 370v1M440.5 195v2M518.5 381v1M617.5 414v1M480.5 285v3M526.5 394v1M1143.5 451v1M640.5 379v2M1215.5 467v2M92.5 308v2M1162.5 473v1M515.5 375v2M656.5 351v2M1093.5 360v2M1165.5 475v1M1056.5 330v1M621.5 411v1M1096.5 366v2M48.5 350v2M490.5 316v3M508.5 362v2M83.5 327v2M869.5 342v1M1228.5 441v2M917.5 391v1M1154.5 465v1M483.5 295v3M1125.5 428v2M1107.5 389v2M581.5 451v1M648.5 364v1M1089.5 354v2M672.5 330v2M1110.5 395v3M465.5 247v2M873.5 347v2M596.5 439v1M1287.5 346v2M636.5 386v2M585.5 448v1M851.5 320v1M238.5 224v1M1256.5 387v1M1259.5 383v1M652.5 358v1M37.5 341v1M486.5 305v3M687.5 315v1M451.5 215v2M82.5 329v3M472.5 264v2M308.5 184v1M1114.5 404v3M500.5 345v2M149.5 258v2M403.5 165v1M1251.5 393v1M600.5 432v2M1117.5 411v2M529.5 399v2M447.5 207v2M138.5 276v1M1243.5 406v2M532.5 404v2M436.5 189v1M87.5 318v2M514.5 374v1M624.5 407v1M522.5 387v1M902.5 379v1M162.5 242v1M165.5 238v1M525.5 392v2M1082.5 346v1M303.5 190v1M986.5 369v1M989.5 364v2M1279.5 356v1M497.5 337v3M675.5 327v1M1092.5 359v1M133.5 282v1M1223.5 451v2M461.5 236v3M47.5 349v1M479.5 281v4M145.5 265v2M469.5 257v2M1247.5 399v2M507.5 360v2M157.5 247v2M1262.5 379v1M160.5 244v1M71.5 352v1M1240.5 413v3M612.5 419v1M493.5 326v3M639.5 381v2M130.5 285v1M396.5 156v2M1299.5 329v2M476.5 273v3M173.5 228v1M970.5 392v1M1222.5 453v3M1017.5 333v1M1211.5 473v1M1103.5 381v2M1081.5 345v1M1214.5 469v1M854.5 324v1M1161.5 472v1M667.5 336v1M1021.5 330v1M443.5 200v2M1294.5 336v1M242.5 220v1M1227.5 443v2M1002.5 344v1M341.5 162v1M635.5 388v2M287.5 200v1M961.5 401v1M1025.5 327v1M691.5 311v1M627.5 402v2M1146.5 455v1M95.5 304v1M1242.5 408v3M1255.5 388v2M153.5 254v1M651.5 359v2M74.5 347v2M176.5 224v2M86.5 320v3M872.5 346v1M506.5 357v3M458.5 229v2M998.5 351v1M1124.5 426v2M853.5 323v1M1235.5 424v2M631.5 395v2M539.5 419v2M1121.5 420v2M1274.5 362v1M897.5 375v1M876.5 352v1M91.5 310v2M1217.5 464v2M464.5 244v3M395.5 155v1M898.5 376v1M623.5 408v2M973.5 388v1M446.5 206v1M1290.5 342v1M1005.5 339v2M985.5 370v2M1302.5 325v1M717.5 309v1M694.5 307v1M439.5 193v2M406.5 169v1M1234.5 426v3M442.5 199v1M912.5 386v1M78.5 338v3M587.5 446v1M1282.5 352v1M156.5 249v2M861.5 331v1M1113.5 402v2M913.5 387v1M643.5 373v2M992.5 360v1M846.5 315v1M875.5 350v2M1206.5 478v1M413.5 177v1M1127.5 431v2M172.5 229v2M394.5 154v1M310.5 182v1M1058.5 332v1M482.5 292v3M109.5 296v1M140.5 274v1M237.5 225v1M879.5 356v2M1128.5 433v1M457.5 227v2M51.5 354v1M976.5 384v1M686.5 316v1M164.5 239v2M1293.5 337v2M553.5 447v2M1250.5 394v1M405.5 168v1M658.5 348v1M549.5 440v2M1241.5 411v2M911.5 385v1M647.5 365v2M1135.5 439v2M438.5 192v1M860.5 330v1M62.5 359v1M85.5 323v2M674.5 328v1M132.5 283v1M325.5 171v1M1221.5 456v2M893.5 372v1M1270.5 368v1M1246.5 401v1M595.5 440v1M662.5 341v1M965.5 397v1M1084.5 348v1M496.5 335v2M689.5 313v1M1258.5 384v1M654.5 355v1M874.5 349v1M1123.5 424v2M318.5 177v1M894.5 373v1M918.5 392v1M937.5 405v1M1253.5 391v1M50.5 353v1M878.5 355v1M1156.5 467v1M765.5 316v1M278.5 207v1M1137.5 443v2M1233.5 429v2M97.5 302v1M1157.5 468v1M552.5 445v2M398.5 159v1M282.5 204v1M677.5 325v1M1138.5 445v1M545.5 433v2M988.5 366v1M57.5 360v1M1083.5 347v1M634.5 390v1M286.5 201v1M1134.5 438v1M1112.5 400v2M546.5 435v1M1273.5 363v2M1276.5 359v2M1057.5 331v1M614.5 417v1M1148.5 457v2M1126.5 430v1M669.5 334v1M175.5 226v1M1129.5 434v2M972.5 389v2M975.5 385v2M1149.5 459v1M638.5 383v1M456.5 225v2M390.5 150v1M1122.5 422v2M630.5 397v1M38.5 342v1M167.5 236v1M1213.5 470v1M170.5 232v1M882.5 361v1M1284.5 350v1M666.5 337v1M127.5 288v1M602.5 429v1M397.5 158v1M463.5 242v2M991.5 361v2M548.5 438v2M681.5 322v1M289.5 197v1M582.5 450v1M1208.5 476v1M626.5 404v1M661.5 342v2M305.5 187v1M408.5 171v2M544.5 431v2M293.5 194v1M650.5 361v1M239.5 223v1M719.5 311v1M1141.5 449v1M863.5 333v2M159.5 245v1M1261.5 380v1M1264.5 376v1M877.5 353v2M1216.5 466v1M657.5 349v2M52.5 355v2M929.5 400v1M605.5 425v1M53.5 357v1M505.5 355v2M984.5 372v1M589.5 444v1M609.5 422v1M537.5 414v2M855.5 325v1M982.5 375v1M1136.5 441v2M967.5 395v1M586.5 447v1M856.5 326v1M320.5 175v1M551.5 443v2M407.5 170v1M1147.5 456v1M142.5 271v2M1267.5 372v1M389.5 149v1M1111.5 398v2M862.5 332v1M914.5 388v1M79.5 336v2M847.5 316v1M978.5 381v1M1252.5 392v1M1292.5 339v1M866.5 338v1M848.5 317v1M455.5 223v2M504.5 353v2M616.5 415v1M193.5 223v1M1158.5 469v1M134.5 281v1M718.5 310v1M1100.5 374v2M597.5 438v1M146.5 264v1M664.5 339v1M1140.5 447v2M547.5 436v2M1239.5 416v2M1173.5 481v1M688.5 314v1M994.5 357v1M925.5 397v1M468.5 254v3M150.5 257v1M604.5 426v2M1018.5 332v1M683.5 320v1M962.5 400v1M880.5 358v1M338.5 164v1M45.5 347v1M1226.5 445v2M1001.5 345v2M166.5 237v1M1295.5 335v1M307.5 185v1M1151.5 461v1M676.5 326v1M1283.5 351v1M454.5 221v2M137.5 277v1M536.5 412v2M475.5 271v2M1078.5 342v1M1263.5 377v2M161.5 243v1M550.5 442v1M1275.5 361v1M1169.5 478v1M671.5 332v1M1139.5 446v1M1099.5 372v2M997.5 352v2M543.5 429v2M66.5 356v1M177.5 223v1M90.5 312v2M974.5 387v1M70.5 353v1M410.5 174v1M865.5 336v2M1150.5 460v1M1085.5 349v1M1286.5 348v1M668.5 335v1M611.5 420v1M981.5 376v2M169.5 233v1M1298.5 331v1M126.5 289v1M1210.5 474v1M714.5 307v1M241.5 221v1M883.5 362v1M399.5 160v1M966.5 396v1M990.5 363v1M94.5 305v1M857.5 327v1M1278.5 357v1M73.5 349v1M409.5 173v1M129.5 286v1M864.5 335v1M391.5 151v1M905.5 381v1M588.5 445v1M916.5 390v1M969.5 393v1M392.5 152v1M1004.5 341v1M322.5 173v1M690.5 312v1M245.5 218v1M615.5 416v1M54.5 358v1M850.5 319v1" fill="none" stroke="#0000cd" stroke-width="1"/>
<path d="M530 477.5h2M541 477.5h6M156 221.5h2M305 155.5h8M338 155.5h9M117 226.5h4M133 226.5h4M148 226.5h2M895 447.5h2M907 447.5h2M209 240.5h12M1066 375.5h3M54 359.5h7M63 359.5h2M782 312.5h2M178 213.5h2M678 284.5h3M302 156.5h3M313 156.5h6M347 156.5h2M1290 319.5h3M1293 320.5h4M1299 320.5h2M898 449.5h3M685 286.5h2M994 309.5h2M992 310.5h2M787 315.5h2M206 241.5h3M730 334.5h3M27 329.5h2M657 303.5h2M832 303.5h2M1021 303.5h2M1269 303.5h4M726 332.5h2M294 149.5h2M364 149.5h2M728 333.5h2M275 172.5h2M742 342.5h2M654 302.5h3M659 302.5h2M830 302.5h2M1018 302.5h3M7 360.5h2M61 360.5h2M615 360.5h2M325 153.5h11M806 301.5h2M1016 301.5h2M808 300.5h2M1014 300.5h2M1297 321.5h2M384 140.5h2M114 225.5h3M121 225.5h4M129 225.5h4M180 212.5h2M374 137.5h6M744 343.5h2M775 316.5h2M43 341.5h2M836 305.5h2M1261 305.5h4M1275 305.5h2M158 220.5h3M169 220.5h2M901 448.5h6M1146 520.5h9M619 357.5h2M733 335.5h2M778 314.5h2M750 349.5h3M522 470.5h2M556 470.5h2M336 154.5h2M230 234.5h2M780 313.5h2M784 313.5h2M987 313.5h2M1288 318.5h2M350 158.5h5M1009 297.5h2M1258 306.5h3M996 308.5h2M1027 308.5h2M821 291.5h2M33 326.5h2M125 224.5h4M151 224.5h2M990 311.5h2M799 307.5h2M550 473.5h2M1187 473.5h2M755 347.5h2M263 188.5h2M154 222.5h2M161 219.5h8M887 440.5h2M226 236.5h2M234 236.5h2M30 327.5h3M380 138.5h2M815 294.5h2M943 376.5h2M1069 376.5h2M651 304.5h2M834 304.5h2M1265 304.5h4M1273 304.5h2M681 285.5h4M687 285.5h2M137 227.5h4M145 227.5h3M175 215.5h2M1286 317.5h2M532 478.5h2M537 478.5h4M141 228.5h4M322 152.5h3M221 239.5h2M552 472.5h2M1143 518.5h2M228 235.5h2M232 235.5h2M236 235.5h2M735 336.5h2M382 139.5h2M387 142.5h2M1006 298.5h3M1011 298.5h2M753 348.5h2M296 150.5h2M362 150.5h2M194 229.5h5M818 292.5h3M534 479.5h3M223 238.5h2M1139 515.5h2M524 471.5h2M554 471.5h2M675.5 287v1M849.5 323v3M1203.5 443v2M13.5 352v2M1191.5 468v2M947.5 373v1M47.5 345v2M433.5 237v2M244.5 219v3M672.5 290v1M1104.5 440v3M1136.5 510v2M1211.5 422v3M272.5 175v2M257.5 195v2M74.5 339v3M475.5 353v4M617.5 359v1M575.5 441v2M931.5 406v2M1252.5 312v1M90.5 284v3M485.5 402v5M288.5 156v2M437.5 248v3M1219.5 397v4M773.5 318v2M1036.5 319v2M1236.5 343v3M571.5 448v2M859.5 355v4M268.5 181v2M608.5 367v2M1178.5 487v3M841.5 309v1M284.5 162v2M390.5 144v2M757.5 346v1M1118.5 473v2M910.5 445v1M862.5 367v3M842.5 310v1M1243.5 325v2M845.5 314v2M623.5 351v3M106.5 241v3M422.5 217v2M1124.5 489v3M279.5 169v1M567.5 456v2M1056.5 354v3M397.5 160v3M451.5 280v2M469.5 329v4M85.5 301v4M454.5 286v2M852.5 332v3M12.5 354v2M400.5 169v3M1060.5 365v3M482.5 386v5M1240.5 333v2M401.5 172v3M855.5 341v4M243.5 222v2M693.5 280v1M461.5 302v3M1210.5 425v3M73.5 342v3M777.5 315v1M72.5 345v2M407.5 187v2M560.5 466v2M929.5 411v2M251.5 205v1M1227.5 369v4M708.5 299v2M772.5 320v2M80.5 319v4M1092.5 410v2M709.5 301v2M478.5 366v5M639.5 321v2M570.5 450v2M443.5 266v2M582.5 425v3M1093.5 412v2M488.5 416v4M1005.5 299v1M247.5 212v2M1177.5 490v2M386.5 141v1M415.5 204v2M45.5 342v1M622.5 354v2M715.5 316v2M1049.5 340v2M35.5 327v2M814.5 295v1M1000.5 304v2M1099.5 425v3M494.5 432v2M46.5 343v2M566.5 458v1M1100.5 428v4M495.5 434v2M1173.5 498v1M93.5 272v4M579.5 433v2M591.5 406v2M1200.5 450v3M11.5 356v2M630.5 334v3M513.5 460v1M1239.5 335v3M474.5 349v4M71.5 347v3M1165.5 507v1M1085.5 397v2M1037.5 321v2M928.5 413v2M250.5 206v2M1226.5 373v3M843.5 311v2M662.5 300v1M1225.5 376v4M1116.5 469v2M358.5 154v1M1160.5 513v2M67.5 355v2M844.5 313v1M847.5 318v3M861.5 363v4M794.5 312v1M1233.5 351v3M246.5 214v3M1123.5 487v2M740.5 340v1M1055.5 351v3M41.5 338v2M396.5 157v3M850.5 326v3M878.5 425v2M589.5 409v2M481.5 381v5M851.5 329v3M1213.5 416v3M92.5 276v4M977.5 324v2M565.5 459v2M889.5 441v1M399.5 166v3M1172.5 499v2M1065.5 374v1M1130.5 503v1M460.5 300v2M578.5 435v2M1230.5 359v3M629.5 337v2M1185.5 475v2M1131.5 504v1M669.5 293v1M290.5 153v1M435.5 241v3M463.5 308v3M100.5 257v2M185.5 215v2M366.5 148v1M406.5 184v3M438.5 251v3M1237.5 341v2M871.5 400v4M710.5 303v2M70.5 350v2M586.5 415v3M439.5 254v3M707.5 297v2M598.5 389v3M1094.5 414v2M759.5 343v2M1224.5 380v3M413.5 200v2M626.5 343v3M1277.5 306v1M96.5 265v2M477.5 362v4M87.5 294v4M416.5 206v3M798.5 308v1M714.5 313v3M1048.5 338v2M1051.5 343v2M923.5 424v2M37.5 331v2M864.5 373v4M1204.5 441v2M867.5 384v4M1058.5 360v3M483.5 391v5M369.5 143v2M1229.5 362v4M645.5 311v2M402.5 175v3M762.5 339v1M1083.5 393v2M6.5 361v1M939.5 384v3M1039.5 324v1M99.5 259v2M585.5 418v2M954.5 365v1M1087.5 400v2M597.5 392v3M1040.5 325v2M466.5 318v3M16.5 346v2M79.5 323v4M1245.5 321v2M625.5 346v3M95.5 267v2M604.5 373v1M877.5 422v3M633.5 328v2M1101.5 432v3M891.5 443v1M648.5 307v2M183.5 212v2M256.5 197v2M507.5 452v2M434.5 239v2M694.5 279v1M1133.5 506v1M187.5 218v2M1301.5 319v1M4.5 363v2M695.5 280v1M644.5 313v2M476.5 357v5M870.5 396v4M267.5 183v2M240.5 229v2M1111.5 459v2M252.5 203v2M914.5 440v1M938.5 387v3M486.5 407v5M584.5 420v3M596.5 395v2M1279.5 308v1M909.5 446v1M1053.5 347v2M94.5 269v3M603.5 374v2M863.5 370v3M1232.5 354v2M1222.5 387v3M1057.5 357v3M472.5 341v4M886.5 439v1M1125.5 492v2M53.5 357v2M255.5 199v2M1071.5 377v2M600.5 382v3M856.5 345v3M20.5 338v2M858.5 352v3M89.5 287v4M110.5 231v2M1166.5 506v1M408.5 189v2M239.5 231v2M465.5 315v3M937.5 390v3M1004.5 300v1M171.5 219v1M925.5 420v2M594.5 400v2M1096.5 418v2M768.5 329v2M26.5 330v1M49.5 349v2M77.5 331v3M298.5 151v1M961.5 352v2M590.5 408v1M432.5 235v2M509.5 455v2M1106.5 445v3M113.5 226v2M23.5 333v1M1135.5 508v2M510.5 457v1M1023.5 304v1M599.5 385v4M189.5 221v2M558.5 469v1M1196.5 459v2M109.5 233v3M19.5 340v2M321.5 153v1M984.5 316v2M661.5 301v1M1247.5 318v1M1192.5 466v2M948.5 371v2M1120.5 478v3M924.5 422v2M424.5 221v2M650.5 305v1M453.5 284v2M767.5 331v2M976.5 326v1M425.5 223v2M428.5 228v2M1253.5 311v1M273.5 174v1M920.5 430v2M959.5 357v2M932.5 403v3M1073.5 380v2M1062.5 370v2M150.5 225v1M289.5 154v2M972.5 332v2M1077.5 386v2M409.5 191v2M177.5 214v1M665.5 297v1M758.5 345v1M1180.5 483v2M285.5 161v1M108.5 236v2M874.5 412v3M1098.5 422v3M445.5 271v2M1095.5 416v2M417.5 209v2M717.5 320v2M261.5 190v1M602.5 376v2M300.5 153v2M1257.5 307v1M497.5 438v2M48.5 347v2M975.5 327v2M919.5 432v2M473.5 345v4M1105.5 443v2M511.5 458v1M191.5 224v2M512.5 459v1M613.5 362v1M699.5 284v2M1025.5 306v1M5.5 362v1M971.5 334v2M640.5 320v1M860.5 359v4M1179.5 485v2M1283.5 312v2M391.5 146v2M967.5 341v2M1119.5 475v3M1216.5 407v3M846.5 316v2M581.5 428v2M426.5 225v1M593.5 402v2M260.5 191v2M455.5 288v2M998.5 307v1M103.5 250v3M1064.5 373v1M918.5 434v2M930.5 408v3M1199.5 453v2M1013.5 299v1M440.5 257v3M489.5 420v4M1215.5 410v3M444.5 268v3M716.5 318v2M894.5 446v1M496.5 436v2M499.5 441v1M962.5 350v2M563.5 462v2M697.5 282v1M701.5 287v2M404.5 180v2M1198.5 455v2M1281.5 310v1M1038.5 323v1M1089.5 404v2M1282.5 311v1M1194.5 463v1M1206.5 436v3M1190.5 470v2M879.5 427v2M370.5 142v1M1254.5 310v1M763.5 338v1M1238.5 338v3M941.5 379v3M271.5 177v1M436.5 244v4M574.5 443v1M1218.5 401v3M320.5 154v1M1113.5 463v2M952.5 367v1M1246.5 319v2M980.5 321v1M1052.5 345v2M38.5 333v1M649.5 306v1M84.5 305v3M75.5 336v3M278.5 170v1M1212.5 419v3M1127.5 497v2M854.5 338v3M577.5 437v2M484.5 396v6M242.5 224v3M805.5 302v1M1141.5 516v1M915.5 439v1M940.5 382v2M516.5 463v2M692.5 281v1M403.5 178v2M703.5 290v2M857.5 348v4M573.5 444v2M1088.5 402v2M771.5 322v2M549.5 474v1M638.5 323v1M569.5 452v2M1176.5 492v2M490.5 424v2M881.5 431v2M813.5 296v1M1137.5 512v2M199.5 230v2M1115.5 467v2M927.5 415v2M1112.5 461v2M1164.5 508v2M249.5 208v2M966.5 343v1M1050.5 342v1M36.5 329v2M1002.5 302v1M568.5 454v2M225.5 237v1M1175.5 494v2M24.5 332v1M632.5 330v2M398.5 163v3M1126.5 494v3M514.5 461v1M1171.5 501v1M559.5 468v1M1075.5 383v2M705.5 293v2M462.5 305v3M1086.5 399v1M1042.5 328v1M1043.5 329v2M69.5 352v2M712.5 308v2M926.5 417v3M1046.5 334v2M355.5 157v1M479.5 371v5M1097.5 420v2M1158.5 516v1M1231.5 356v3M934.5 398v3M1174.5 496v2M792.5 314v2M50.5 351v2M1169.5 503v1M1107.5 448v3M186.5 217v1M102.5 253v2M666.5 296v1M201.5 233v2M627.5 341v2M190.5 223v1M81.5 315v4M98.5 261v2M359.5 153v1M953.5 366v1M1193.5 464v2M468.5 325v4M393.5 150v2M68.5 354v1M15.5 348v2M848.5 321v2M673.5 289v1M76.5 334v2M933.5 401v2M457.5 292v2M945.5 375v1M429.5 230v2M1184.5 477v1M614.5 361v1M647.5 309v1M670.5 292v1M270.5 178v1M956.5 362v2M1250.5 314v1M643.5 315v2M1044.5 331v1M319.5 155v1M872.5 404v4M410.5 193v3M18.5 342v2M487.5 412v4M266.5 185v2M606.5 370v1M840.5 308v1M711.5 305v3M282.5 165v1M965.5 344v2M446.5 273v2M14.5 350v2M449.5 278v1M718.5 322v2M105.5 244v3M277.5 171v1M1242.5 327v3M258.5 194v1M1221.5 390v4M508.5 454v1M498.5 440v1M868.5 388v4M188.5 220v1M691.5 282v1M254.5 201v1M192.5 226v1M269.5 179v2M1280.5 309v1M238.5 233v2M824.5 294v1M265.5 187v1M392.5 148v2M637.5 324v1M480.5 376v5M1003.5 301v1M430.5 232v1M564.5 461v1M812.5 297v1M601.5 378v4M427.5 226v2M1241.5 330v3M83.5 308v4M518.5 466v1M1302.5 318v1M1079.5 389v1M112.5 228v1M1108.5 451v2M1195.5 461v2M447.5 275v1M1001.5 303v1M738.5 338v1M356.5 156v1M78.5 327v4M65.5 358v1M719.5 324v1M739.5 339v1M580.5 430v3M1122.5 484v3M299.5 152v1M592.5 404v2M720.5 325v2M500.5 442v2M588.5 411v2M1170.5 502v1M958.5 359v2M986.5 314v1M628.5 339v2M1090.5 406v2M823.5 292v2M826.5 297v1M981.5 320v1M1162.5 511v1M827.5 298v1M876.5 418v4M796.5 310v1M1223.5 383v4M1214.5 413v3M86.5 298v3M492.5 428v2M1202.5 445v3M791.5 316v1M1103.5 438v2M880.5 429v2M883.5 434v2M520.5 468v1M869.5 392v4M367.5 146v2M1030.5 310v1M101.5 255v2M521.5 469v1M587.5 413v2M1031.5 311v2M760.5 342v1M1182.5 480v1M1034.5 316v1M957.5 361v1M287.5 158v2M1114.5 465v2M1235.5 346v2M677.5 285v1M1117.5 471v2M607.5 369v1M1205.5 439v2M865.5 377v3M547.5 476v1M722.5 328v1M301.5 155v1M471.5 337v4M293.5 150v1M274.5 173v1M1059.5 363v2M646.5 310v1M502.5 445v1M182.5 211v1M700.5 286v1M1026.5 307v1M464.5 311v4M1209.5 428v3M610.5 365v1M704.5 292v1M642.5 317v1M1091.5 408v2M467.5 321v4M1217.5 404v3M1284.5 314v1M912.5 442v2M1041.5 327v1M442.5 263v3M828.5 299v2M1234.5 348v3M281.5 166v1M653.5 303v1M875.5 415v3M621.5 356v1M491.5 426v2M9.5 359v1M1102.5 435v3M885.5 437v2M153.5 223v1M1032.5 313v1M241.5 227v2M253.5 202v1M200.5 232v1M203.5 236v2M641.5 318v2M770.5 324v3M1159.5 515v1M1054.5 349v2M40.5 336v2M395.5 154v3M724.5 330v1M470.5 333v4M789.5 316v1M1156.5 518v1M459.5 297v3M504.5 448v1M853.5 335v3M456.5 290v2M1220.5 394v3M526.5 472v1M184.5 214v1M702.5 289v1M21.5 336v2M405.5 182v2M515.5 462v1M111.5 229v2M706.5 295v2M664.5 298v1M873.5 408v4M1207.5 433v3M412.5 198v2M838.5 306v1M441.5 260v3M713.5 310v3M248.5 210v2M769.5 327v2M951.5 368v1M746.5 344v1M922.5 426v2M372.5 139v2M946.5 374v1M448.5 276v2M866.5 380v4M671.5 291v1M292.5 151v1M1082.5 392v1M1251.5 313v1M576.5 439v2M1228.5 366v3M985.5 315v1M804.5 303v1M205.5 239v2M761.5 340v2M1248.5 316v2M572.5 446v2M283.5 164v1M795.5 311v1M1244.5 323v2M1121.5 481v3M624.5 349v2M394.5 152v2M259.5 193v1M1189.5 472v1M548.5 475v1M921.5 428v2M371.5 141v1M458.5 294v3M1255.5 309v1M973.5 330v2M764.5 336v2M1142.5 517v1M517.5 465v1M1074.5 382v1M528.5 474v2M802.5 305v1M1181.5 481v2M1110.5 456v3M689.5 284v1M3.5 365v1M969.5 337v2M611.5 364v1M1045.5 332v2M97.5 263v2M583.5 423v2M595.5 397v3M748.5 346v2M418.5 211v2M737.5 337v1M635.5 326v1M786.5 314v1M618.5 358v1M52.5 355v2M810.5 299v1M10.5 358v1M1201.5 448v2M631.5 332v2M1138.5 514v1M774.5 317v1M916.5 437v2M88.5 291v3M911.5 444v1M193.5 227v2M968.5 339v2M936.5 393v2M825.5 295v2M964.5 346v2M104.5 247v3M431.5 233v2M960.5 354v3M1076.5 385v1M519.5 467v1M22.5 334v2M1029.5 309v1M1168.5 504v1M1109.5 453v3M1033.5 314v2M361.5 151v1M1163.5 510v1M1208.5 431v2M797.5 309v1M935.5 395v3M419.5 213v1M420.5 214v2M423.5 219v2M963.5 348v2M452.5 282v2M721.5 327v1M373.5 138v1M245.5 217v2M1155.5 519v1M25.5 331v1M368.5 145v1M1061.5 368v2M766.5 333v2M1129.5 501v2M91.5 280v4M82.5 312v3M1024.5 305v1M1183.5 478v2M663.5 299v1M17.5 344v2M107.5 238v3M172.5 218v1M950.5 369v1M605.5 371v2M978.5 323v1M493.5 430v2M1186.5 474v1M349.5 157v1M291.5 152v1M1078.5 388v1M942.5 377v2M698.5 283v1M667.5 295v1M803.5 304v1M1035.5 317v2M913.5 441v1M690.5 283v1M421.5 216v1M450.5 279v1M39.5 334v2M636.5 325v1M674.5 288v1M1128.5 499v2M811.5 298v1M503.5 446v2M2.5 366v1M414.5 202v2M1285.5 315v2M411.5 196v2M829.5 301v1M634.5 327v1M1157.5 517v1M882.5 433v1M1080.5 390v1M562.5 464v1M1145.5 519v1M1081.5 391v1M1084.5 395v2M1197.5 457v2M174.5 216v1M29.5 328v1M999.5 306v1M501.5 444v1M790.5 317v1M505.5 449v2M1167.5 505v1M1249.5 315v1M527.5 473v1M360.5 152v1M1047.5 336v2M357.5 155v1M66.5 357v1M676.5 286v1M793.5 313v1M1256.5 308v1M884.5 436v1M974.5 329v1M765.5 335v1M51.5 353v2M1072.5 379v1M612.5 363v1M970.5 336v1M202.5 235v1M609.5 366v1M982.5 319v1M949.5 370v1M741.5 341v1M42.5 340v1M723.5 329v1M280.5 167v2M890.5 442v1M1132.5 505v1M506.5 451v1M917.5 436v1M989.5 312v1M529.5 476v1M286.5 160v1M1278.5 307v1M262.5 189v1M749.5 348v1M897.5 448v1M1063.5 372v1M204.5 238v1M1161.5 512v1M817.5 293v1M725.5 331v1M892.5 444v1M893.5 445v1M1134.5 507v1M561.5 465v1M696.5 281v1M839.5 307v1M173.5 217v1M389.5 143v1M747.5 345v1M979.5 322v1M668.5 294v1M801.5 306v1M955.5 364v1M983.5 318v1" fill="none" stroke="#ff0000" stroke-width="1"/>
<path d="M746 312.5h3M675 288.5h2M981 288.5h4M992 288.5h2M1000 294.5h2M942 338.5h3M947 338.5h2M1154 492.5h3M1164 492.5h2M1168 492.5h2M1171 492.5h2M574 397.5h3M579 397.5h2M1081 397.5h2M651 287.5h2M666 287.5h9M978 287.5h3M985 287.5h7M1067 415.5h2M1004 292.5h3M945 339.5h2M1026 339.5h3M194 241.5h2M1166 491.5h2M814 262.5h3M642 282.5h2M433 205.5h2M305 150.5h4M322 150.5h2M1242 280.5h3M658 277.5h2M268 159.5h2M314 159.5h3M335 159.5h2M1266 322.5h3M1016 318.5h2M906 411.5h3M476 449.5h3M1157 493.5h7M433 204.5h2M782 316.5h2M955 340.5h2M1029 340.5h2M1288 340.5h2M1149 484.5h2M330 157.5h3M170 243.5h5M622 343.5h2M749 313.5h3M233 226.5h2M951 337.5h2M1286 341.5h2M497 468.5h2M229 227.5h4M146 185.5h2M569 404.5h2M1121 555.5h2M226 228.5h3M186 236.5h3M678 290.5h3M817 261.5h2M784 317.5h2M1014 317.5h2M21 309.5h2M767 309.5h2M1269 323.5h2M612 324.5h2M615 324.5h2M1271 324.5h2M770 307.5h5M610 325.5h2M196 242.5h2M266 160.5h2M351 160.5h2M1033 335.5h2M202 252.5h3M681 291.5h2M289 155.5h2M1063 414.5h2M811 264.5h2M302 149.5h3M309 149.5h2M693 272.5h2M341 162.5h4M377 101.5h2M644 281.5h3M1245 281.5h2M998 295.5h2M474 450.5h2M566 405.5h3M53 398.5h2M577 398.5h2M752 314.5h2M884 479.5h3M607 327.5h2M294 145.5h5M120 258.5h2M1071 412.5h2M42 392.5h2M286 154.5h3M660 278.5h2M374 100.5h3M882 478.5h2M189 235.5h2M1002 293.5h2M338 161.5h3M345 161.5h6M1118 556.5h3M148 184.5h3M529 504.5h2M317 158.5h2M333 158.5h2M118 259.5h2M837.5 348v6M923.5 386v4M438.5 230v8M1133.5 523v5M1106.5 508v5M85.5 190v4M71.5 287v11M427.5 219v4M453.5 356v8M1218.5 340v3M544.5 477v3M114.5 255v1M463.5 406v5M729.5 377v4M406.5 283v4M399.5 242v7M61.5 362v6M291.5 152v2M872.5 462v3M638.5 296v2M1100.5 467v8M1093.5 429v4M561.5 418v6M100.5 211v6M769.5 308v1M895.5 444v4M734.5 348v6M217.5 240v2M66.5 333v7M70.5 298v10M801.5 293v4M833.5 328v4M390.5 160v9M444.5 281v8M858.5 420v5M541.5 485v1M440.5 247v8M360.5 143v2M418.5 268v6M384.5 128v4M503.5 457v2M624.5 337v4M422.5 241v6M1212.5 359v3M1144.5 491v1M459.5 388v4M1298.5 317v4M90.5 175v2M962.5 334v2M76.5 239v8M402.5 262v6M597.5 357v5M757.5 310v2M548.5 462v4M1078.5 402v1M452.5 347v9M935.5 353v3M899.5 429v4M738.5 332v4M416.5 279v4M469.5 436v5M241.5 199v4M396.5 217v8M556.5 442v2M1192.5 423v5M240.5 203v4M1049.5 372v4M75.5 247v8M1099.5 459v8M201.5 250v2M6.5 303v1M421.5 247v7M971.5 311v3M804.5 283v4M57.5 384v4M1116.5 549v3M393.5 189v10M1183.5 458v3M827.5 299v5M1209.5 367v4M1200.5 398v3M1132.5 528v5M443.5 273v8M1259.5 304v3M628.5 322v4M1131.5 533v5M426.5 223v5M1058.5 400v3M380.5 109v5M1216.5 347v3M1262.5 313v3M1274.5 326v1M455.5 371v4M1031.5 338v2M553.5 449v2M138.5 206v4M244.5 184v6M1263.5 316v2M449.5 322v8M792.5 322v2M27.5 337v4M213.5 237v1M903.5 417v2M539.5 487v1M1109.5 522v4M1285.5 339v2M1102.5 483v7M236.5 218v4M129.5 243v2M60.5 368v5M235.5 222v3M395.5 208v9M359.5 145v3M145.5 187v3M1135.5 516v3M733.5 354v6M102.5 222v4M1048.5 369v3M799.5 301v4M429.5 211v4M65.5 340v6M1204.5 385v4M446.5 297v8M69.5 308v8M103.5 226v3M961.5 336v2M502.5 459v3M717.5 385v4M88.5 180v4M535.5 494v2M623.5 341v2M648.5 284v2M547.5 466v4M1143.5 492v2M163.5 213v3M392.5 179v10M605.5 329v1M1296.5 324v3M248.5 168v4M1221.5 331v3M897.5 436v4M1077.5 403v2M863.5 443v2M313.5 156v2M404.5 273v5M866.5 449v2M711.5 345v8M80.5 212v6M461.5 397v4M261.5 145v2M24.5 318v7M193.5 239v2M239.5 207v4M721.5 395v2M969.5 317v2M1182.5 461v3M1114.5 543v3M437.5 222v8M462.5 401v5M5.5 304v2M1091.5 421v4M37.5 372v4M1105.5 502v6M398.5 234v8M873.5 465v2M1022.5 327v3M1073.5 411v1M74.5 255v10M363.5 135v2M795.5 315v3M420.5 254v7M40.5 384v4M1215.5 350v4M1300.5 307v5M1037.5 342v3M445.5 289v8M371.5 109v4M425.5 228v4M411.5 295v2M902.5 419v3M823.5 275v6M714.5 369v7M243.5 190v5M892.5 455v3M791.5 324v2M764.5 307v2M832.5 324v4M73.5 265v11M59.5 373v6M170.5 241v2M559.5 429v6M1195.5 411v3M516.5 470v3M128.5 245v3M798.5 305v3M703.5 293v6M92.5 179v2M401.5 255v7M321.5 151v2M1177.5 479v3M1203.5 389v4M1134.5 519v4M458.5 383v5M974.5 301v3M33.5 358v2M436.5 215v7M631.5 311v3M622.5 344v2M1098.5 452v7M1011.5 303v4M1104.5 496v6M519.5 478v4M852.5 394v5M95.5 186v5M135.5 221v5M283.5 160v2M87.5 184v3M1220.5 334v3M1295.5 327v3M199.5 245v2M493.5 463v2M36.5 368v4M256.5 142v2M1014.5 315v2M442.5 264v9M200.5 247v3M828.5 304v6M109.5 244v3M712.5 353v8M1054.5 387v3M583.5 392v2M838.5 354v4M1227.5 313v3M595.5 366v5M79.5 218v6M1258.5 302v2M977.5 289v4M379.5 104v5M968.5 319v3M1181.5 464v4M1190.5 433v4M1291.5 336v2M736.5 340v4M389.5 154v6M454.5 364v7M294.5 146v1M166.5 223v4M381.5 114v5M1264.5 318v2M439.5 238v9M464.5 411v5M26.5 331v6M362.5 137v3M407.5 287v3M400.5 249v6M419.5 261v7M55.5 393v4M707.5 319v6M1101.5 475v8M47.5 390v2M626.5 330v4M1094.5 433v5M618.5 326v3M169.5 236v5M1276.5 328v2M1025.5 335v3M929.5 368v2M82.5 202v4M424.5 232v5M101.5 217v5M410.5 297v2M509.5 457v2M155.5 194v3M965.5 327v2M1097.5 447v5M599.5 346v6M859.5 425v5M900.5 426v3M1194.5 414v4M242.5 195v4M647.5 282v2M136.5 215v6M391.5 169v10M973.5 304v3M825.5 287v6M1084.5 400v2M11.5 300v2M716.5 380v5M126.5 250v2M972.5 307v4M320.5 153v2M58.5 379v5M1185.5 451v3M835.5 337v6M995.5 290v2M1201.5 396v2M262.5 147v2M134.5 226v4M630.5 314v4M1247.5 282v2M1250.5 287v2M996.5 292v1M397.5 225v9M263.5 149v3M403.5 268v5M428.5 215v4M273.5 162v1M1117.5 552v3M374.5 101v1M266.5 159v1M582.5 394v2M448.5 313v9M1226.5 316v3M78.5 224v7M526.5 499v2M855.5 408v4M98.5 201v5M821.5 268v2M1290.5 338v2M237.5 215v3M39.5 380v4M394.5 199v9M662.5 279v2M54.5 397v1M54.5 399v1M665.5 285v2M1180.5 468v4M778.5 311v1M1206.5 378v3M841.5 365v4M28.5 341v4M625.5 334v3M699.5 282v2M1128.5 544v3M1153.5 489v2M1006.5 291v1M1110.5 526v5M709.5 331v6M151.5 185v2M928.5 370v3M1043.5 357v2M29.5 345v4M250.5 161v4M450.5 330v9M549.5 458v4M1046.5 363v2M435.5 207v8M964.5 329v3M467.5 426v5M451.5 339v8M81.5 206v6M1145.5 489v2M32.5 355v3M447.5 305v8M621.5 338v5M104.5 229v3M1010.5 299v4M1230.5 304v3M1184.5 454v4M557.5 439v3M495.5 466v1M72.5 276v11M755.5 313v2M796.5 311v4M496.5 467v1M601.5 335v6M1217.5 343v4M1020.5 323v2M67.5 325v8M637.5 298v2M1278.5 331v1M49.5 393v2M1197.5 406v3M919.5 398v3M617.5 325v1M507.5 453v2M1024.5 333v2M573.5 398v2M788.5 322v2M77.5 231v8M800.5 297v4M1148.5 485v2M1179.5 472v4M589.5 379v2M1066.5 416v1M540.5 486v1M633.5 305v3M1127.5 547v2M209.5 242v2M1297.5 321v3M89.5 177v3M726.5 389v3M441.5 255v9M518.5 475v3M997.5 293v2M386.5 136v5M536.5 492v2M1249.5 285v2M520.5 482v4M1252.5 291v2M565.5 407v2M387.5 141v6M1089.5 413v4M1229.5 307v3M1241.5 281v2M356.5 153v2M521.5 486v4M264.5 152v4M1140.5 500v4M117.5 258v1M484.5 459v2M524.5 495v2M730.5 372v5M663.5 281v2M829.5 310v5M1191.5 428v5M1237.5 288v2M820.5 265v3M1074.5 409v2M528.5 502v2M664.5 283v2M830.5 315v5M413.5 291v2M780.5 313v2M1059.5 403v3M45.5 390v1M1151.5 485v2M708.5 325v6M1044.5 359v2M701.5 286v2M150.5 183v1M1041.5 353v2M939.5 343v2M1152.5 487v2M1062.5 412v2M1187.5 444v4M587.5 384v2M156.5 197v3M208.5 244v3M1112.5 535v4M850.5 386v4M914.5 407v1M826.5 293v6M604.5 330v1M596.5 362v4M355.5 155v2M836.5 343v5M1018.5 319v2M4.5 306v2M640.5 288v4M1019.5 321v2M405.5 278v5M498.5 469v1M867.5 451v2M531.5 502v2M803.5 287v3M627.5 326v4M1292.5 334v2M1092.5 425v4M99.5 206v5M1130.5 538v4M551.5 453v2M786.5 318v2M215.5 237v2M874.5 467v2M787.5 320v2M216.5 239v1M689.5 278v2M1232.5 298v3M710.5 337v8M938.5 345v2M385.5 132v4M468.5 431v5M144.5 190v2M732.5 360v6M1087.5 406v4M685.5 286v2M255.5 144v1M704.5 299v7M64.5 346v5M68.5 316v9M1088.5 410v3M1051.5 379v3M889.5 466v4M124.5 254v1M485.5 461v2M482.5 456v1M818.5 262v1M1036.5 339v3M293.5 147v2M802.5 290v3M713.5 361v8M530.5 505v1M84.5 194v4M1138.5 508v3M1273.5 325v1M1150.5 483v1M505.5 453v2M1265.5 320v2M1214.5 354v3M591.5 376v1M848.5 382v2M369.5 116v4M619.5 329v5M937.5 347v3M558.5 435v4M806.5 277v3M925.5 378v4M1302.5 299v3M684.5 288v1M162.5 211v2M478.5 448v1M366.5 127v3M706.5 312v7M869.5 455v2M594.5 371v3M976.5 293v4M1189.5 437v4M1039.5 348v2M831.5 320v4M876.5 471v1M1205.5 381v4M131.5 237v3M920.5 396v2M1137.5 511v3M762.5 305v1M504.5 455v2M590.5 377v2M763.5 306v1M1103.5 490v6M432.5 206v1M457.5 379v4M515.5 468v2M1113.5 539v4M805.5 280v3M191.5 236v2M629.5 318v4M62.5 357v5M562.5 414v4M1260.5 307v3M932.5 361v2M887.5 474v4M657.5 278v2M434.5 203v1M434.5 206v1M130.5 240v3M1275.5 327v1M1136.5 514v2M9.5 300v1M417.5 274v5M257.5 141v1M861.5 434v5M585.5 388v2M910.5 413v1M602.5 332v3M56.5 388v5M1208.5 371v3M38.5 376v4M245.5 179v5M931.5 363v2M694.5 271v1M412.5 293v2M44.5 391v1M656.5 280v2M1038.5 345v3M552.5 451v2M137.5 210v5M843.5 372v2M918.5 401v2M153.5 189v2M742.5 324v2M808.5 270v4M1008.5 295v2M1045.5 361v2M609.5 326v1M368.5 120v3M632.5 308v3M34.5 360v4M96.5 191v5M278.5 167v1M906.5 410v1M141.5 198v3M1207.5 374v4M922.5 390v3M1139.5 504v4M167.5 227v5M178.5 236v2M930.5 365v3M408.5 290v4M560.5 424v5M1277.5 330v1M894.5 448v3M48.5 392v1M290.5 154v1M1095.5 438v5M127.5 248v2M741.5 326v2M1211.5 362v2M12.5 302v2M23.5 312v6M756.5 312v1M282.5 162v2M1219.5 337v3M1251.5 289v2M471.5 444v2M123.5 255v2M415.5 283v5M639.5 292v4M905.5 412v2M223.5 233v2M856.5 412v4M822.5 270v5M745.5 314v3M252.5 152v5M382.5 119v5M1129.5 542v2M219.5 240v2M842.5 369v3M700.5 284v2M1223.5 325v3M1007.5 293v2M91.5 177v2M538.5 488v2M1047.5 365v4M1193.5 418v5M158.5 203v2M566.5 406v1M1231.5 301v3M358.5 148v3M501.5 462v2M849.5 384v2M105.5 232v3M319.5 155v2M1210.5 364v3M731.5 366v6M960.5 338v2M862.5 439v4M63.5 351v6M247.5 172v3M184.5 232v2M1142.5 494v2M25.5 325v6M388.5 147v7M1076.5 405v2M1021.5 325v2M1107.5 513v4M904.5 414v3M46.5 389v1M50.5 395v1M508.5 455v2M1279.5 332v1M789.5 324v2M511.5 460v2M824.5 281v6M834.5 332v5M431.5 207v2M915.5 406v1M1222.5 328v3M649.5 286v2M963.5 332v2M10.5 299v1M537.5 490v2M1083.5 398v2M1124.5 552v2M642.5 283v1M460.5 392v5M1176.5 482v4M1079.5 400v2M500.5 464v2M1253.5 293v2M35.5 364v4M586.5 386v2M1034.5 334v1M470.5 441v3M1013.5 311v4M959.5 340v2M924.5 382v4M1294.5 330v2M246.5 175v4M854.5 403v5M1056.5 393v4M1075.5 407v2M365.5 130v2M202.5 253v1M735.5 344v4M813.5 263v1M1070.5 413v1M1196.5 409v2M168.5 232v4M409.5 294v3M690.5 277v1M702.5 288v5M975.5 297v4M456.5 375v4M146.5 186v1M1096.5 443v4M620.5 334v4M430.5 209v2M157.5 200v3M725.5 392v2M182.5 229v1M718.5 389v3M183.5 230v2M480.5 452v2M164.5 216v4M1293.5 332v2M868.5 453v2M693.5 273v1M1026.5 338v1M41.5 388v4M857.5 416v4M52.5 397v1M286.5 155v1M875.5 469v2M1186.5 448v3M927.5 373v2M30.5 349v4M517.5 473v2M724.5 394v1M1173.5 491v1M1012.5 307v4M1118.5 555v1M853.5 399v4M486.5 463v1M1055.5 390v3M839.5 358v4M177.5 238v2M600.5 341v5M543.5 480v3M1108.5 517v5M728.5 381v4M465.5 416v5M572.5 400v2M760.5 307v1M1147.5 487v1M1081.5 398v1M1126.5 549v2M281.5 164v1M1240.5 283v2M479.5 450v2M934.5 356v3M555.5 444v3M794.5 318v2M222.5 235v1M140.5 201v2M696.5 275v2M214.5 236v1M83.5 198v4M542.5 483v2M1040.5 350v3M877.5 472v2M635.5 301v2M218.5 242v1M727.5 385v4M1283.5 336v2M1061.5 409v3M211.5 239v1M571.5 402v2M423.5 237v4M845.5 376v2M22.5 308v1M22.5 310v2M94.5 183v3M1125.5 551v1M1050.5 376v3M534.5 496v2M546.5 470v4M270.5 158v1M414.5 288v3M165.5 220v3M896.5 440v4M111.5 249v2M1239.5 285v2M3.5 308v2M238.5 211v4M1032.5 337v1M554.5 447v2M793.5 320v2M139.5 203v3M1235.5 291v2M810.5 265v2M1299.5 312v5M42.5 393v1M715.5 376v4M688.5 280v2M891.5 458v4M641.5 284v4M797.5 308v3M143.5 192v3M198.5 243v2M254.5 145v3M492.5 461v2M1090.5 417v4M522.5 490v3M473.5 448v2M86.5 187v3M581.5 396v1M1035.5 336v3M364.5 132v3M2.5 310v1M292.5 149v3M840.5 362v3M698.5 279v3M1281.5 334v1M695.5 273v2M886.5 478v1M886.5 480v1M878.5 474v1M967.5 322v2M1282.5 335v1M879.5 475v1M1060.5 406v3M322.5 149v1M844.5 374v2M466.5 421v5M765.5 309v1M1009.5 297v2M766.5 310v1M890.5 462v4M93.5 181v2M160.5 207v2M851.5 390v4M106.5 235v3M584.5 390v2M142.5 195v3M864.5 445v2M272.5 160v2M113.5 253v2M1301.5 302v5M133.5 230v3M110.5 247v2M1023.5 330v3M871.5 460v2M776.5 309v1M966.5 324v3M513.5 464v2M761.5 306v1M1085.5 402v2M367.5 123v4M898.5 433v3M13.5 304v2M16.5 309v2M1115.5 546v3M490.5 458v1M472.5 446v2M1255.5 296v2M1199.5 401v2M132.5 233v4M921.5 393v3M893.5 451v4M1065.5 415v1M1111.5 531v4M152.5 187v2M324.5 151v1M1146.5 488v1M1080.5 399v1M159.5 205v2M8.5 301v1M192.5 238v1M312.5 153v3M719.5 392v2M1228.5 310v3M274.5 163v1M888.5 470v4M1198.5 403v3M949.5 337v1M251.5 157v4M744.5 317v4M634.5 303v2M370.5 113v3M512.5 462v2M210.5 240v2M901.5 422v4M234.5 225v1M790.5 326v1M650.5 288v1M357.5 151v2M14.5 306v1M15.5 307v2M1053.5 384v3M300.5 147v1M533.5 498v2M97.5 196v5M1141.5 496v4M1257.5 300v2M1261.5 310v3M940.5 341v2M1234.5 293v2M743.5 321v3M1188.5 441v3M154.5 191v3M994.5 289v1M598.5 352v5M258.5 140v1M310.5 150v1M311.5 151v2M705.5 306v6M911.5 411v2M499.5 466v2M532.5 500v2M265.5 156v3M373.5 102v4M1225.5 319v3M510.5 459v1M383.5 124v4M1233.5 295v3M847.5 380v2M249.5 165v3M125.5 252v2M1052.5 382v2M279.5 166v1M754.5 315v1M978.5 288v1M253.5 148v4M527.5 501v1M372.5 106v3M1224.5 322v3M881.5 477v1M636.5 300v1M212.5 238v1M1154.5 491v1M1178.5 476v3M588.5 381v3M860.5 430v4M926.5 375v3M807.5 274v3M20.5 310v2M564.5 409v3M737.5 336v4M483.5 457v2M523.5 493v2M819.5 263v2M870.5 457v3M970.5 314v3M697.5 277v2M1280.5 333v1M846.5 378v2M7.5 302v1M207.5 247v2M108.5 241v3M913.5 408v2M19.5 312v1M563.5 412v2M181.5 230v2M354.5 157v2M933.5 359v2M112.5 251v2M692.5 274v1M775.5 308v1M326.5 153v1M941.5 339v2M550.5 455v3M285.5 156v2M606.5 328v1M916.5 404v2M1202.5 393v3M723.5 395v2M206.5 249v2M180.5 232v2M545.5 474v3M1057.5 397v3M176.5 240v1M691.5 275v2M809.5 267v3M361.5 140v3M1213.5 357v2M284.5 158v2M936.5 350v3M687.5 282v2M739.5 330v2M318.5 157v1M759.5 308v1M161.5 209v2M107.5 238v3M225.5 229v2M1175.5 486v3M954.5 339v1M865.5 447v2M314.5 158v1M488.5 460v2M683.5 289v2M179.5 234v2M1170.5 493v1M221.5 236v2M593.5 374v1M175.5 241v2M337.5 160v1M329.5 156v1M514.5 466v2M31.5 353v2M1086.5 404v2M686.5 284v2M17.5 311v2M491.5 459v2M1174.5 489v2M494.5 465v1M950.5 336v1M224.5 231v2M299.5 146v1M1256.5 298v2M487.5 462v1M746.5 313v1M1069.5 414v1M220.5 238v2M1284.5 338v1M506.5 452v1M260.5 143v2M720.5 394v1M271.5 159v1M677.5 289v1M185.5 234v2M115.5 256v1M116.5 257v1M655.5 282v2M912.5 410v1M18.5 313v1M1254.5 295v1M1238.5 287v1M353.5 159v1M378.5 102v2M880.5 476v1M654.5 284v2M205.5 251v1M280.5 165v1M259.5 141v2M740.5 328v2M722.5 397v1M122.5 257v1M481.5 454v2M525.5 497v2M777.5 310v1M1042.5 355v2M758.5 309v1M592.5 375v1M325.5 152v1M1082.5 396v1M1248.5 284v1M1123.5 554v1M275.5 164v1M957.5 341v1M276.5 165v1M1033.5 336v1M958.5 342v1M779.5 312v1M51.5 396v1M917.5 403v1M301.5 148v1M909.5 412v1M953.5 338v1M1236.5 290v1M646.5 280v1M327.5 154v1M328.5 155v1M489.5 459v1M603.5 331v1M277.5 166v1M781.5 315v1M614.5 323v1M653.5 286v1" fill="none" stroke="#ffa500" stroke-width="1"/>
</g>
<path d="M1305 28.5 L1314.6 28.5 L1309.8 34 Z" fill="#c0c0c0" shape-rendering="auto"/>
<rect x="1" y="27" width="1" height="779" fill="#000"/>
<rect x="1" y="27" width="1638" height="1" fill="#000"/>
<rect x="1638" y="27" width="1" height="779" fill="#000"/>
<rect x="1" y="594" width="1638" height="1" fill="#000"/>
<rect x="1" y="595" width="1638" height="1" fill="#fff"/>
<rect x="1" y="596" width="1638" height="1" fill="#000"/>
<rect x="1" y="700" width="1638" height="1" fill="#000"/>
<rect x="1" y="701" width="1638" height="1" fill="#fff"/>
<rect x="1" y="702" width="1638" height="1" fill="#000"/>
<rect x="1" y="805" width="1638" height="1" fill="#000"/>
<rect x="2" y="57" width="1638" height="2" fill="#ff0000"/>
<rect x="2" y="177" width="1638" height="2" fill="#ff0000"/>
<rect x="2" y="279" width="1638" height="2" fill="#00ff00"/>
<rect x="2" y="417" width="1638" height="2" fill="#0000ff"/>
<rect x="2" y="524" width="1638" height="2" fill="#0000ff"/>
<path d="M3 628.5h3M9 628.5h3M15 628.5h3M21 628.5h3M27 628.5h3M33 628.5h3M39 628.5h3M45 628.5h3M51 628.5h3M57 628.5h3M63 628.5h3M69 628.5h3M75 628.5h3M81 628.5h3M87 628.5h3M93 628.5h3M99 628.5h3M105 628.5h3M111 628.5h3M117 628.5h3M123 628.5h3M129 628.5h3M135 628.5h3M141 628.5h3M147 628.5h3M153 628.5h3M159 628.5h3M165 628.5h3M171 628.5h3M177 628.5h3M183 628.5h3M189 628.5h3M195 628.5h3M201 628.5h3M207 628.5h3M213 628.5h3M219 628.5h3M225 628.5h3M231 628.5h3M237 628.5h3M243 628.5h3M249 628.5h3M255 628.5h3M261 628.5h3M267 628.5h3M273 628.5h3M279 628.5h3M285 628.5h3M291 628.5h3M297 628.5h3M303 628.5h3M309 628.5h3M315 628.5h3M321 628.5h3M327 628.5h3M333 628.5h3M339 628.5h3M345 628.5h3M351 628.5h3M357 628.5h3M363 628.5h3M369 628.5h3M375 628.5h3M381 628.5h3M387 628.5h3M393 628.5h3M399 628.5h3M405 628.5h3M411 628.5h3M417 628.5h3M423 628.5h3M429 628.5h3M435 628.5h3M441 628.5h3M447 628.5h3M453 628.5h3M459 628.5h3M465 628.5h3M471 628.5h3M477 628.5h3M483 628.5h3M489 628.5h3M495 628.5h3M501 628.5h3M507 628.5h3M513 628.5h3M519 628.5h3M525 628.5h3M531 628.5h3M537 628.5h3M543 628.5h3M549 628.5h3M555 628.5h3M561 628.5h3M567 628.5h3M573 628.5h3M579 628.5h3M585 628.5h3M591 628.5h3M597 628.5h3M603 628.5h3M609 628.5h3M615 628.5h3M621 628.5h3M627 628.5h3M633 628.5h3M639 628.5h3M645 628.5h3M651 628.5h3M657 628.5h3M663 628.5h3M669 628.5h3M675 628.5h3M681 628.5h3M687 628.5h3M693 628.5h3M699 628.5h3M705 628.5h3M711 628.5h3M717 628.5h3M723 628.5h3M729 628.5h3M735 628.5h3M741 628.5h3M747 628.5h3M753 628.5h3M759 628.5h3M765 628.5h3M771 628.5h3M777 628.5h3M783 628.5h3M789 628.5h3M795 628.5h3M801 628.5h3M807 628.5h3M813 628.5h3M819 628.5h3M825 628.5h3M831 628.5h3M837 628.5h3M843 628.5h3M849 628.5h3M855 628.5h3M861 628.5h3M867 628.5h3M873 628.5h3M879 628.5h3M885 628.5h3M891 628.5h3M897 628.5h3M903 628.5h3M909 628.5h3M915 628.5h3M921 628.5h3M927 628.5h3M933 628.5h3M939 628.5h3M945 628.5h3M951 628.5h3M957 628.5h3M963 628.5h3M969 628.5h3M975 628.5h3M981 628.5h3M987 628.5h3M993 628.5h3M999 628.5h3M1005 628.5h3M1011 628.5h3M1017 628.5h3M1023 628.5h3M1029 628.5h3M1035 628.5h3M1041 628.5h3M1047 628.5h3M1053 628.5h3M1059 628.5h3M1065 628.5h3M1071 628.5h3M1077 628.5h3M1083 628.5h3M1089 628.5h3M1095 628.5h3M1101 628.5h3M1107 628.5h3M1113 628.5h3M1119 628.5h3M1125 628.5h3M1131 628.5h3M1137 628.5h3M1143 628.5h3M1149 628.5h3M1155 628.5h3M1161 628.5h3M1167 628.5h3M1173 628.5h3M1179 628.5h3M1185 628.5h3M1191 628.5h3M1197 628.5h3M1203 628.5h3M1209 628.5h3M1215 628.5h3M1221 628.5h3M1227 628.5h3M1233 628.5h3M1239 628.5h3M1245 628.5h3M1251 628.5h3M1257 628.5h3M1263 628.5h3M1269 628.5h3M1275 628.5h3M1281 628.5h3M1287 628.5h3M1293 628.5h3M1299 628.5h3M1305 628.5h3M1311 628.5h3M1317 628.5h3M1323 628.5h3M1329 628.5h3M1335 628.5h3M1341 628.5h3M1347 628.5h3M1353 628.5h3M1359 628.5h3M1365 628.5h3M1371 628.5h3M1377 628.5h3M1383 628.5h3M1389 628.5h3M1395 628.5h3M1401 628.5h3M1407 628.5h3M1413 628.5h3M1419 628.5h3M1425 628.5h3M1431 628.5h3M1437 628.5h3M1443 628.5h3M1449 628.5h3M1455 628.5h3M1461 628.5h3M1467 628.5h3M1473 628.5h3M1479 628.5h3M1485 628.5h3M1491 628.5h3M1497 628.5h3M1503 628.5h3M1509 628.5h3M1515 628.5h3M1521 628.5h3M1527 628.5h3M1533 628.5h3M1539 628.5h3M1545 628.5h3M1551 628.5h3M1557 628.5h3M1563 628.5h3M1569 628.5h3M1575 628.5h3M1581 628.5h3M1587 628.5h3M1593 628.5h3M1599 628.5h3M1605 628.5h3M1611 628.5h3M1617 628.5h3M1623 628.5h3M1629 628.5h3M1635 628.5h3" fill="none" stroke="#c0c0c0" stroke-width="1"/>
<path d="M3 669.5h3M9 669.5h3M15 669.5h3M21 669.5h3M27 669.5h3M33 669.5h3M39 669.5h3M45 669.5h3M51 669.5h3M57 669.5h3M63 669.5h3M69 669.5h3M75 669.5h3M81 669.5h3M87 669.5h3M93 669.5h3M99 669.5h3M105 669.5h3M111 669.5h3M117 669.5h3M123 669.5h3M129 669.5h3M135 669.5h3M141 669.5h3M147 669.5h3M153 669.5h3M159 669.5h3M165 669.5h3M171 669.5h3M177 669.5h3M183 669.5h3M189 669.5h3M195 669.5h3M201 669.5h3M207 669.5h3M213 669.5h3M219 669.5h3M225 669.5h3M231 669.5h3M237 669.5h3M243 669.5h3M249 669.5h3M255 669.5h3M261 669.5h3M267 669.5h3M273 669.5h3M279 669.5h3M285 669.5h3M291 669.5h3M297 669.5h3M303 669.5h3M309 669.5h3M315 669.5h3M321 669.5h3M327 669.5h3M333 669.5h3M339 669.5h3M345 669.5h3M351 669.5h3M357 669.5h3M363 669.5h3M369 669.5h3M375 669.5h3M381 669.5h3M387 669.5h3M393 669.5h3M399 669.5h3M405 669.5h3M411 669.5h3M417 669.5h3M423 669.5h3M429 669.5h3M435 669.5h3M441 669.5h3M447 669.5h3M453 669.5h3M459 669.5h3M465 669.5h3M471 669.5h3M477 669.5h3M483 669.5h3M489 669.5h3M495 669.5h3M501 669.5h3M507 669.5h3M513 669.5h3M519 669.5h3M525 669.5h3M531 669.5h3M537 669.5h3M543 669.5h3M549 669.5h3M555 669.5h3M561 669.5h3M567 669.5h3M573 669.5h3M579 669.5h3M585 669.5h3M591 669.5h3M597 669.5h3M603 669.5h3M609 669.5h3M615 669.5h3M621 669.5h3M627 669.5h3M633 669.5h3M639 669.5h3M645 669.5h3M651 669.5h3M657 669.5h3M663 669.5h3M669 669.5h3M675 669.5h3M681 669.5h3M687 669.5h3M693 669.5h3M699 669.5h3M705 669.5h3M711 669.5h3M717 669.5h3M723 669.5h3M729 669.5h3M735 669.5h3M741 669.5h3M747 669.5h3M753 669.5h3M759 669.5h3M765 669.5h3M771 669.5h3M777 669.5h3M783 669.5h3M789 669.5h3M795 669.5h3M801 669.5h3M807 669.5h3M813 669.5h3M819 669.5h3M825 669.5h3M831 669.5h3M837 669.5h3M843 669.5h3M849 669.5h3M855 669.5h3M861 669.5h3M867 669.5h3M873 669.5h3M879 669.5h3M885 669.5h3M891 669.5h3M897 669.5h3M903 669.5h3M909 669.5h3M915 669.5h3M921 669.5h3M927 669.5h3M933 669.5h3M939 669.5h3M945 669.5h3M951 669.5h3M957 669.5h3M963 669.5h3M969 669.5h3M975 669.5h3M981 669.5h3M987 669.5h3M993 669.5h3M999 669.5h3M1005 669.5h3M1011 669.5h3M1017 669.5h3M1023 669.5h3M1029 669.5h3M1035 669.5h3M1041 669.5h3M1047 669.5h3M1053 669.5h3M1059 669.5h3M1065 669.5h3M1071 669.5h3M1077 669.5h3M1083 669.5h3M1089 669.5h3M1095 669.5h3M1101 669.5h3M1107 669.5h3M1113 669.5h3M1119 669.5h3M1125 669.5h3M1131 669.5h3M1137 669.5h3M1143 669.5h3M1149 669.5h3M1155 669.5h3M1161 669.5h3M1167 669.5h3M1173 669.5h3M1179 669.5h3M1185 669.5h3M1191 669.5h3M1197 669.5h3M1203 669.5h3M1209 669.5h3M1215 669.5h3M1221 669.5h3M1227 669.5h3M1233 669.5h3M1239 669.5h3M1245 669.5h3M1251 669.5h3M1257 669.5h3M1263 669.5h3M1269 669.5h3M1275 669.5h3M1281 669.5h3M1287 669.5h3M1293 669.5h3M1299 669.5h3M1305 669.5h3M1311 669.5h3M1317 669.5h3M1323 669.5h3M1329 669.5h3M1335 669.5h3M1341 669.5h3M1347 669.5h3M1353 669.5h3M1359 669.5h3M1365 669.5h3M1371 669.5h3M1377 669.5h3M1383 669.5h3M1389 669.5h3M1395 669.5h3M1401 669.5h3M1407 669.5h3M1413 669.5h3M1419 669.5h3M1425 669.5h3M1431 669.5h3M1437 669.5h3M1443 669.5h3M1449 669.5h3M1455 669.5h3M1461 669.5h3M1467 669.5h3M1473 669.5h3M1479 669.5h3M1485 669.5h3M1491 669.5h3M1497 669.5h3M1503 669.5h3M1509 669.5h3M1515 669.5h3M1521 669.5h3M1527 669.5h3M1533 669.5h3M1539 669.5h3M1545 669.5h3M1551 669.5h3M1557 669.5h3M1563 669.5h3M1569 669.5h3M1575 669.5h3M1581 669.5h3M1587 669.5h3M1593 669.5h3M1599 669.5h3M1605 669.5h3M1611 669.5h3M1617 669.5h3M1623 669.5h3M1629 669.5h3M1635 669.5h3" fill="none" stroke="#c0c0c0" stroke-width="1"/>
<path d="M74 631.5h9M133 637.5h6M146 637.5h2M645 637.5h2M801 637.5h3M936 637.5h2M982 637.5h2M1182 637.5h2M1250 637.5h2M6 642.5h2M259 642.5h2M283 642.5h2M606 642.5h3M637 642.5h2M946 642.5h2M189 653.5h6M700 653.5h2M725 653.5h2M1141 653.5h4M1147 653.5h2M109 644.5h6M178 644.5h5M262 644.5h2M342 644.5h3M567 644.5h2M611 644.5h2M620 644.5h3M650 644.5h2M665 644.5h3M680 644.5h2M732 644.5h2M758 644.5h3M955 644.5h2M26 657.5h3M51 657.5h2M538 657.5h2M838 657.5h3M1038 657.5h2M154 648.5h3M233 648.5h2M298 648.5h3M314 648.5h5M331 648.5h2M350 648.5h5M426 648.5h3M741 648.5h2M890 648.5h2M1280 648.5h2M962 633.5h2M976 633.5h2M1194 633.5h5M66 639.5h2M250 639.5h3M255 639.5h2M293 639.5h2M368 639.5h2M373 639.5h2M584 639.5h2M588 639.5h2M794 639.5h3M814 639.5h3M922 639.5h2M986 639.5h3M992 639.5h2M1186 639.5h3M1254 639.5h3M1260 639.5h2M506 661.5h2M706 661.5h5M1053 661.5h2M243 635.5h2M626 635.5h5M940 635.5h3M969 635.5h4M1296 635.5h2M441 666.5h8M474 666.5h3M514 666.5h3M521 666.5h4M853 666.5h3M1090 666.5h2M29 656.5h4M385 656.5h2M536 656.5h2M1040 656.5h2M1043 656.5h2M1078 656.5h5M938 636.5h2M966 636.5h3M1294 636.5h2M106 645.5h3M222 645.5h3M228 645.5h2M264 645.5h2M274 645.5h3M279 645.5h2M571 645.5h2M615 645.5h2M668 645.5h2M671 645.5h2M730 645.5h2M756 645.5h2M761 645.5h2M770 645.5h3M914 645.5h3M1274 645.5h2M202 651.5h5M336 651.5h3M782 651.5h6M897 651.5h8M907 651.5h2M1029 651.5h3M1165 651.5h4M1173 651.5h2M409 663.5h2M490 663.5h2M14 649.5h2M21 649.5h2M157 649.5h4M164 649.5h2M214 649.5h5M301 649.5h2M429 649.5h2M547 649.5h2M738 649.5h3M778 649.5h2M1134 649.5h2M64 640.5h2M286 640.5h2M366 640.5h2M582 640.5h2M590 640.5h2M686 640.5h3M692 640.5h3M817 640.5h2M931 640.5h2M994 640.5h5M401 670.5h2M872 670.5h2M881 670.5h2M503 659.5h2M1013 659.5h2M508 662.5h2M711 662.5h2M826 662.5h5M1050 662.5h3M698 652.5h2M788 652.5h3M894 652.5h3M905 652.5h2M1026 652.5h3M1032 652.5h2M1151 652.5h2M1162 652.5h3M1169 652.5h4M1285 652.5h2M68 638.5h2M130 638.5h3M148 638.5h2M253 638.5h2M370 638.5h3M586 638.5h2M643 638.5h2M797 638.5h4M804 638.5h2M924 638.5h2M934 638.5h2M984 638.5h2M989 638.5h3M1184 638.5h2M1189 638.5h2M1252 638.5h2M1257 638.5h3M1291 638.5h2M438 667.5h3M449 667.5h2M477 667.5h2M517 667.5h4M856 667.5h2M1092 667.5h2M104 646.5h2M225 646.5h3M277 646.5h2M346 646.5h2M422 646.5h2M557 646.5h2M753 646.5h3M773 646.5h2M917 646.5h2M1018 646.5h2M1276 646.5h2M1213 626.5h2M83 632.5h2M1199 632.5h2M406 664.5h3M492 664.5h2M497 664.5h2M511 664.5h2M714 664.5h5M846 664.5h3M62 641.5h2M288 641.5h2M563 641.5h2M592 641.5h2M634 641.5h3M639 641.5h2M655 641.5h2M689 641.5h3M948 641.5h2M306 643.5h5M609 643.5h2M618 643.5h2M652 643.5h2M662 643.5h3M674 643.5h6M1225 620.5h8M1237 620.5h3M540 658.5h3M841 658.5h2M43 654.5h2M186 654.5h3M722 654.5h3M1073 654.5h3M1138 654.5h3M1145 654.5h2M1154 654.5h3M1159 654.5h2M86 634.5h5M973 634.5h3M11 647.5h2M98 647.5h6M211 647.5h2M326 647.5h5M348 647.5h2M424 647.5h2M550 647.5h7M577 647.5h2M750 647.5h3M775 647.5h2M890 647.5h2M1020 647.5h2M1278 647.5h2M33 655.5h2M382 655.5h3M534 655.5h2M835 655.5h2M1066 655.5h7M1076 655.5h2M1157 655.5h2M397 669.5h4M861 669.5h4M869 669.5h3M1096 669.5h2M16 650.5h2M19 650.5h2M161 650.5h3M334 650.5h2M780 650.5h2M601 629.5h2M1203 629.5h2M458 673.5h3M464 673.5h2M1113 673.5h4M1121 673.5h2M461 672.5h3M485 672.5h2M1117 672.5h4M466 674.5h5M1106 674.5h7M1103 676.5h2M1233 619.5h4M1240 619.5h3M494 665.5h3M525 665.5h6M849 665.5h4M1059 665.5h2M394 668.5h3M451 668.5h2M858 668.5h3M865 668.5h4M1094 668.5h2M1218 623.5h2M1215 625.5h2M1206 627.5h7M1220 622.5h2M1222 621.5h3M455 671.5h2M482 671.5h3M874 671.5h7M1244.5 623v2M824.5 655v3M624.5 639v3M605.5 637v4M722.5 655v1M479.5 668v1M889.5 649v5M186.5 653v1M437.5 662v4M825.5 658v3M95.5 641v2M1015.5 655v4M1300.5 631v1M1217.5 624v1M232.5 646v2M601.5 630v1M56.5 650v2M358.5 642v2M96.5 643v2M999.5 639v1M980.5 634v2M236.5 644v2M737.5 647v2M1063.5 660v2M258.5 641v1M269.5 640v2M183.5 646v2M1262.5 640v1M49.5 656v2M141.5 641v1M92.5 636v2M981.5 636v1M911.5 648v1M764.5 647v1M345.5 645v1M1025.5 651v1M1014.5 660v1M543.5 656v2M145.5 638v1M597.5 636v2M1246.5 628v3M501.5 659v2M1132.5 652v3M943.5 636v2M954.5 645v1M920.5 642v2M767.5 648v1M744.5 645v2M273.5 643v2M390.5 660v2M126.5 642v1M831.5 659v2M37.5 659v1M570.5 646v1M297.5 645v2M319.5 646v2M391.5 662v2M961.5 634v2M1178.5 641v2M726.5 652v1M1181.5 638v1M1243.5 620v3M604.5 634v3M38.5 660v1M175.5 647v1M91.5 635v1M436.5 659v3M94.5 639v2M1086.5 662v1M763.5 646v1M1105.5 675v1M649.5 642v2M1003.5 636v1M1288.5 645v3M201.5 649v2M702.5 654v1M1007.5 641v3M713.5 663v1M1037.5 656v1M1287.5 648v4M705.5 659v2M953.5 644v1M945.5 640v2M736.5 646v1M642.5 639v1M182.5 645v1M129.5 639v1M140.5 639v2M820.5 644v3M812.5 641v1M569.5 645v1M695.5 641v3M646.5 636v1M1010.5 651v3M235.5 646v2M623.5 642v2M1013.5 658v1M208.5 648v2M1193.5 634v1M888.5 654v5M417.5 651v2M942.5 634v1M303.5 647v2M197.5 646v2M574.5 643v1M41.5 656v1M72.5 634v1M323.5 643v1M1131.5 655v2M1018.5 647v1M1268.5 642v1M296.5 642v3M473.5 667v2M1017.5 648v4M231.5 645v1M45.5 653v1M1123.5 669v3M683.5 644v1M883.5 669v1M603.5 630v4M698.5 651v1M380.5 651v2M581.5 641v2M121.5 648v1M247.5 634v2M435.5 655v4M413.5 658v2M729.5 646v2M1002.5 635v1M793.5 641v4M1085.5 660v2M291.5 641v1M416.5 653v2M542.5 659v1M144.5 639v2M596.5 638v2M342.5 643v1M648.5 640v2M790.5 653v1M565.5 642v1M239.5 639v1M721.5 656v2M219.5 648v1M1122.5 672v1M2.5 650v2M694.5 639v1M1177.5 643v2M549.5 648v1M600.5 631v2M393.5 666v2M1272.5 642v2M1245.5 625v3M36.5 657v2M341.5 645v2M1127.5 661v1M322.5 642v1M930.5 641v1M1062.5 662v2M268.5 642v2M364.5 637v2M531.5 662v2M720.5 658v3M489.5 665v2M124.5 644v2M657.5 640v1M1036.5 655v1M242.5 636v1M200.5 648v1M481.5 670v1M379.5 649v2M117.5 649v2M246.5 633v1M184.5 648v3M59.5 645v1M151.5 641v2M625.5 637v2M960.5 636v3M457.5 672v1M952.5 642v2M929.5 640v1M1046.5 658v1M944.5 638v2M660.5 641v1M500.5 661v1M177.5 645v1M40.5 657v2M1006.5 639v2M964.5 634v1M1130.5 657v2M887.5 659v5M819.5 642v2M359.5 640v2M1047.5 659v1M1299.5 632v2M1016.5 652v3M389.5 659v1M1271.5 641v1M580.5 643v2M546.5 650v2M172.5 651v1M412.5 660v1M1009.5 648v3M381.5 653v2M298.5 647v1M959.5 639v2M1176.5 645v3M697.5 648v3M823.5 652v3M834.5 654v1M480.5 669v1M1286.5 653v1M249.5 637v2M845.5 662v2M886.5 664v3M355.5 647v1M921.5 640v2M659.5 640v1M910.5 649v1M207.5 650v1M199.5 646v2M1192.5 635v2M210.5 646v1M378.5 647v2M419.5 649v1M85.5 633v1M116.5 647v2M1008.5 644v4M1088.5 664v1M472.5 669v2M765.5 648v1M769.5 646v1M735.5 644v2M599.5 633v2M234.5 649v1M128.5 640v1M431.5 650v1M1249.5 635v2M613.5 645v1M142.5 642v1M766.5 649v1M340.5 647v2M830.5 661v1M614.5 646v1M1149.5 652v1M71.5 635v2M719.5 661v2M488.5 667v2M123.5 646v1M1180.5 639v1M415.5 655v2M728.5 648v2M743.5 647v1M324.5 644v2M1161.5 653v1M533.5 657v2M595.5 640v2M1267.5 643v1M576.5 645v2M807.5 640v1M325.5 646v1M682.5 645v1M696.5 644v4M1293.5 637v1M1001.5 636v1M153.5 645v2M560.5 643v1M453.5 669v1M1042.5 655v1M248.5 636v1M1065.5 656v2M403.5 668v2M811.5 642v1M499.5 662v2M647.5 638v2M1263.5 641v1M532.5 659v3M154.5 647v1M1126.5 662v2M792.5 645v3M321.5 643v2M1129.5 659v1M115.5 645v2M6.5 641v1M1004.5 637v1M513.5 665v1M282.5 643v1M305.5 644v2M54.5 654v2M1248.5 633v2M1005.5 638v1M1289.5 641v4M818.5 641v1M1270.5 640v1M545.5 652v2M746.5 643v1M1099.5 671v2M1061.5 664v1M1175.5 648v2M267.5 644v2M885.5 667v1M1011.5 654v2M362.5 635v1M833.5 655v2M1125.5 664v3M791.5 648v4M5.5 643v2M58.5 646v2M363.5 636v1M575.5 644v1M438.5 666v1M290.5 642v1M241.5 637v1M471.5 671v2M221.5 646v1M377.5 645v2M118.5 651v1M24.5 652v2M150.5 639v2M673.5 644v1M579.5 645v2M822.5 649v3M411.5 661v2M958.5 641v2M1137.5 652v2M1202.5 630v1M806.5 639v1M912.5 647v1M559.5 644v2M1049.5 661v1M632.5 638v1M685.5 641v1M13.5 648v1M843.5 659v2M1133.5 650v2M245.5 634v1M152.5 643v2M339.5 649v2M844.5 661v1M61.5 642v1M890.5 646v1M510.5 663v1M566.5 643v1M502.5 658v1M23.5 650v2M661.5 642v1M1101.5 675v2M4.5 645v3M1247.5 631v2M505.5 660v1M171.5 652v2M1301.5 629v2M57.5 648v2M1102.5 677v1M434.5 653v2M1000.5 637v2M1273.5 644v1M312.5 645v2M1064.5 658v2M1056.5 663v2M365.5 639v1M271.5 640v2M357.5 644v1M421.5 647v1M53.5 656v1M893.5 650v2M578.5 648v1M768.5 647v1M26.5 656v1M919.5 644v2M361.5 636v2M1083.5 657v2M376.5 643v2M832.5 657v2M1022.5 648v1M281.5 644v1M8.5 643v2M1089.5 665v1M122.5 647v1M1269.5 641v1M965.5 635v1M1124.5 667v2M684.5 642v2M1048.5 660v1M631.5 636v2M1136.5 651v1M433.5 652v1M414.5 657v1M405.5 665v2M813.5 640v1M562.5 640v1M270.5 639v1M295.5 640v2M209.5 647v1M220.5 647v1M418.5 650v1M641.5 640v1M892.5 649v1M167.5 649v2M809.5 642v1M25.5 654v2M622.5 645v1M304.5 646v1M454.5 670v1M1100.5 673v2M1135.5 650v1M432.5 651v1M745.5 644v1M285.5 641v1M196.5 648v2M957.5 643v1M266.5 646v1M1264.5 642v1M884.5 668v1M18.5 651v1M1201.5 631v1M174.5 648v1M1265.5 643v1M125.5 643v1M573.5 644v1M794.5 640v1M311.5 644v1M292.5 640v1M60.5 643v2M1055.5 662v1M261.5 643v1M1302.5 628v1M387.5 657v1M808.5 641v1M470.5 673v1M748.5 645v1M120.5 649v1M3.5 648v2M360.5 638v2M1283.5 650v1M333.5 649v1M1242.5 618v1M185.5 651v2M375.5 641v2M166.5 648v1M1153.5 653v1M1290.5 639v2M356.5 645v2M170.5 654v1M1134.5 648v1M22.5 648v1M926.5 637v1M747.5 644v1M633.5 639v2M530.5 664v1M561.5 641v2M927.5 638v1M606.5 641v1M238.5 640v2M143.5 641v1M1058.5 666v1M1150.5 651v1M169.5 652v2M97.5 645v2M487.5 669v2M47.5 653v2M173.5 649v2M374.5 640v1M257.5 640v1M48.5 655v1M1298.5 634v1M1024.5 650v1M933.5 639v1M777.5 648v1M10.5 646v1M139.5 638v1M420.5 648v1M1282.5 649v1M55.5 652v2M404.5 667v1M909.5 650v1M195.5 650v2M1191.5 637v1M272.5 642v1M626.5 636v1M826.5 661v1M544.5 654v2M39.5 659v1M127.5 641v1M168.5 651v1M294.5 638v1M534.5 656v1M727.5 650v2M704.5 657v2M978.5 632v1M70.5 637v1M1084.5 659v1M1179.5 640v1M1023.5 649v1M237.5 642v2M9.5 645v1M979.5 633v1M1098.5 670v1M594.5 642v1M313.5 647v1M1012.5 656v2M1057.5 665v1M670.5 646v1M598.5 635v1M35.5 656v1M320.5 645v1M1034.5 653v1M176.5 646v1M42.5 655v1M73.5 632v2M1035.5 654v1M230.5 644v1M93.5 638v1M617.5 644v1M703.5 655v2M1266.5 644v1M837.5 656v1M821.5 647v2M602.5 628v1M119.5 650v1M928.5 639v1M749.5 646v1M392.5 664v2M388.5 658v1M810.5 643v1M913.5 646v1M46.5 652v1M654.5 642v1M718.5 663v1M950.5 640v1M658.5 639v1M50.5 658v1M198.5 645v1M1174.5 650v1M490.5 664v1M1205.5 628v1M962.5 632v1M951.5 641v1M1087.5 663v1M1045.5 657v1M240.5 638v1M734.5 643v1M338.5 652v1M213.5 648v1M194.5 652v1M486.5 671v1M1284.5 651v1M1128.5 660v1" fill="none" stroke="#1e90ff" stroke-width="1"/>
<rect x="2" y="746" width="1" height="11" fill="#c0c0c0"/>
<rect x="6" y="746" width="1" height="6" fill="#c0c0c0"/>
<rect x="10" y="746" width="1" height="4" fill="#c0c0c0"/>
<rect x="14" y="746" width="1" height="4" fill="#c0c0c0"/>
<rect x="18" y="746" width="1" height="4" fill="#c0c0c0"/>
<rect x="22" y="746" width="1" height="4" fill="#c0c0c0"/>
<rect x="26" y="746" width="1" height="8" fill="#c0c0c0"/>
<rect x="30" y="746" width="1" height="10" fill="#c0c0c0"/>
<rect x="34" y="746" width="1" height="12" fill="#c0c0c0"/>
<rect x="38" y="746" width="1" height="15" fill="#c0c0c0"/>
<rect x="42" y="746" width="1" height="16" fill="#c0c0c0"/>
<rect x="46" y="746" width="1" height="16" fill="#c0c0c0"/>
<rect x="50" y="746" width="1" height="18" fill="#c0c0c0"/>
<rect x="54" y="746" width="1" height="18" fill="#c0c0c0"/>
<rect x="58" y="746" width="1" height="14" fill="#c0c0c0"/>
<rect x="62" y="746" width="1" height="7" fill="#c0c0c0"/>
<rect x="70" y="740" width="1" height="7" fill="#c0c0c0"/>
<rect x="74" y="732" width="1" height="15" fill="#c0c0c0"/>
<rect x="78" y="724" width="1" height="23" fill="#c0c0c0"/>
<rect x="82" y="719" width="1" height="28" fill="#c0c0c0"/>
<rect x="86" y="716" width="1" height="31" fill="#c0c0c0"/>
<rect x="90" y="714" width="1" height="33" fill="#c0c0c0"/>
<rect x="94" y="715" width="1" height="32" fill="#c0c0c0"/>
<rect x="98" y="719" width="1" height="28" fill="#c0c0c0"/>
<rect x="102" y="722" width="1" height="25" fill="#c0c0c0"/>
<rect x="106" y="724" width="1" height="23" fill="#c0c0c0"/>
<rect x="110" y="726" width="1" height="21" fill="#c0c0c0"/>
<rect x="114" y="727" width="1" height="20" fill="#c0c0c0"/>
<rect x="118" y="731" width="1" height="16" fill="#c0c0c0"/>
<rect x="122" y="733" width="1" height="14" fill="#c0c0c0"/>
<rect x="126" y="732" width="1" height="15" fill="#c0c0c0"/>
<rect x="130" y="729" width="1" height="18" fill="#c0c0c0"/>
<rect x="134" y="727" width="1" height="20" fill="#c0c0c0"/>
<rect x="138" y="725" width="1" height="22" fill="#c0c0c0"/>
<rect x="142" y="726" width="1" height="21" fill="#c0c0c0"/>
<rect x="146" y="724" width="1" height="23" fill="#c0c0c0"/>
<rect x="150" y="724" width="1" height="23" fill="#c0c0c0"/>
<rect x="154" y="727" width="1" height="20" fill="#c0c0c0"/>
<rect x="158" y="730" width="1" height="17" fill="#c0c0c0"/>
<rect x="162" y="733" width="1" height="14" fill="#c0c0c0"/>
<rect x="166" y="735" width="1" height="12" fill="#c0c0c0"/>
<rect x="170" y="738" width="1" height="9" fill="#c0c0c0"/>
<rect x="174" y="739" width="1" height="8" fill="#c0c0c0"/>
<rect x="178" y="738" width="1" height="9" fill="#c0c0c0"/>
<rect x="182" y="738" width="1" height="9" fill="#c0c0c0"/>
<rect x="186" y="741" width="1" height="6" fill="#c0c0c0"/>
<rect x="190" y="743" width="1" height="4" fill="#c0c0c0"/>
<rect x="194" y="745" width="1" height="2" fill="#c0c0c0"/>
<rect x="198" y="744" width="1" height="3" fill="#c0c0c0"/>
<rect x="202" y="745" width="1" height="2" fill="#c0c0c0"/>
<rect x="210" y="745" width="1" height="2" fill="#c0c0c0"/>
<rect x="214" y="745" width="1" height="2" fill="#c0c0c0"/>
<rect x="218" y="745" width="1" height="2" fill="#c0c0c0"/>
<rect x="222" y="744" width="1" height="3" fill="#c0c0c0"/>
<rect x="226" y="744" width="1" height="3" fill="#c0c0c0"/>
<rect x="230" y="742" width="1" height="5" fill="#c0c0c0"/>
<rect x="234" y="743" width="1" height="4" fill="#c0c0c0"/>
<rect x="238" y="740" width="1" height="7" fill="#c0c0c0"/>
<rect x="242" y="735" width="1" height="12" fill="#c0c0c0"/>
<rect x="246" y="730" width="1" height="17" fill="#c0c0c0"/>
<rect x="250" y="729" width="1" height="18" fill="#c0c0c0"/>
<rect x="254" y="727" width="1" height="20" fill="#c0c0c0"/>
<rect x="258" y="727" width="1" height="20" fill="#c0c0c0"/>
<rect x="262" y="728" width="1" height="19" fill="#c0c0c0"/>
<rect x="266" y="730" width="1" height="17" fill="#c0c0c0"/>
<rect x="270" y="729" width="1" height="18" fill="#c0c0c0"/>
<rect x="274" y="730" width="1" height="17" fill="#c0c0c0"/>
<rect x="278" y="731" width="1" height="16" fill="#c0c0c0"/>
<rect x="282" y="731" width="1" height="16" fill="#c0c0c0"/>
<rect x="286" y="730" width="1" height="17" fill="#c0c0c0"/>
<rect x="290" y="730" width="1" height="17" fill="#c0c0c0"/>
<rect x="294" y="729" width="1" height="18" fill="#c0c0c0"/>
<rect x="298" y="731" width="1" height="16" fill="#c0c0c0"/>
<rect x="302" y="734" width="1" height="13" fill="#c0c0c0"/>
<rect x="306" y="733" width="1" height="14" fill="#c0c0c0"/>
<rect x="310" y="733" width="1" height="14" fill="#c0c0c0"/>
<rect x="314" y="735" width="1" height="12" fill="#c0c0c0"/>
<rect x="318" y="736" width="1" height="11" fill="#c0c0c0"/>
<rect x="322" y="735" width="1" height="12" fill="#c0c0c0"/>
<rect x="326" y="737" width="1" height="10" fill="#c0c0c0"/>
<rect x="330" y="738" width="1" height="9" fill="#c0c0c0"/>
<rect x="334" y="739" width="1" height="8" fill="#c0c0c0"/>
<rect x="338" y="741" width="1" height="6" fill="#c0c0c0"/>
<rect x="342" y="740" width="1" height="7" fill="#c0c0c0"/>
<rect x="346" y="740" width="1" height="7" fill="#c0c0c0"/>
<rect x="350" y="741" width="1" height="6" fill="#c0c0c0"/>
<rect x="354" y="741" width="1" height="6" fill="#c0c0c0"/>
<rect x="358" y="740" width="1" height="7" fill="#c0c0c0"/>
<rect x="362" y="736" width="1" height="11" fill="#c0c0c0"/>
<rect x="366" y="735" width="1" height="12" fill="#c0c0c0"/>
<rect x="370" y="733" width="1" height="14" fill="#c0c0c0"/>
<rect x="374" y="731" width="1" height="16" fill="#c0c0c0"/>
<rect x="378" y="733" width="1" height="14" fill="#c0c0c0"/>
<rect x="382" y="737" width="1" height="10" fill="#c0c0c0"/>
<rect x="386" y="741" width="1" height="6" fill="#c0c0c0"/>
<rect x="394" y="746" width="1" height="10" fill="#c0c0c0"/>
<rect x="398" y="746" width="1" height="17" fill="#c0c0c0"/>
<rect x="402" y="746" width="1" height="23" fill="#c0c0c0"/>
<rect x="406" y="746" width="1" height="26" fill="#c0c0c0"/>
<rect x="410" y="746" width="1" height="28" fill="#c0c0c0"/>
<rect x="414" y="746" width="1" height="27" fill="#c0c0c0"/>
<rect x="418" y="746" width="1" height="23" fill="#c0c0c0"/>
<rect x="422" y="746" width="1" height="19" fill="#c0c0c0"/>
<rect x="426" y="746" width="1" height="16" fill="#c0c0c0"/>
<rect x="430" y="746" width="1" height="13" fill="#c0c0c0"/>
<rect x="434" y="746" width="1" height="13" fill="#c0c0c0"/>
<rect x="438" y="746" width="1" height="21" fill="#c0c0c0"/>
<rect x="442" y="746" width="1" height="26" fill="#c0c0c0"/>
<rect x="446" y="746" width="1" height="30" fill="#c0c0c0"/>
<rect x="450" y="746" width="1" height="34" fill="#c0c0c0"/>
<rect x="454" y="746" width="1" height="38" fill="#c0c0c0"/>
<rect x="458" y="746" width="1" height="44" fill="#c0c0c0"/>
<rect x="462" y="746" width="1" height="48" fill="#c0c0c0"/>
<rect x="466" y="746" width="1" height="51" fill="#c0c0c0"/>
<rect x="470" y="746" width="1" height="54" fill="#c0c0c0"/>
<rect x="474" y="746" width="1" height="54" fill="#c0c0c0"/>
<rect x="478" y="746" width="1" height="53" fill="#c0c0c0"/>
<rect x="482" y="746" width="1" height="54" fill="#c0c0c0"/>
<rect x="486" y="746" width="1" height="55" fill="#c0c0c0"/>
<rect x="490" y="746" width="1" height="53" fill="#c0c0c0"/>
<rect x="494" y="746" width="1" height="52" fill="#c0c0c0"/>
<rect x="498" y="746" width="1" height="50" fill="#c0c0c0"/>
<rect x="502" y="746" width="1" height="46" fill="#c0c0c0"/>
<rect x="506" y="746" width="1" height="44" fill="#c0c0c0"/>
<rect x="510" y="746" width="1" height="43" fill="#c0c0c0"/>
<rect x="514" y="746" width="1" height="43" fill="#c0c0c0"/>
<rect x="518" y="746" width="1" height="44" fill="#c0c0c0"/>
<rect x="522" y="746" width="1" height="43" fill="#c0c0c0"/>
<rect x="526" y="746" width="1" height="42" fill="#c0c0c0"/>
<rect x="530" y="746" width="1" height="41" fill="#c0c0c0"/>
<rect x="534" y="746" width="1" height="37" fill="#c0c0c0"/>
<rect x="538" y="746" width="1" height="34" fill="#c0c0c0"/>
<rect x="542" y="746" width="1" height="32" fill="#c0c0c0"/>
<rect x="546" y="746" width="1" height="27" fill="#c0c0c0"/>
<rect x="550" y="746" width="1" height="22" fill="#c0c0c0"/>
<rect x="554" y="746" width="1" height="18" fill="#c0c0c0"/>
<rect x="558" y="746" width="1" height="15" fill="#c0c0c0"/>
<rect x="562" y="746" width="1" height="9" fill="#c0c0c0"/>
<rect x="566" y="746" width="1" height="6" fill="#c0c0c0"/>
<rect x="570" y="746" width="1" height="4" fill="#c0c0c0"/>
<rect x="574" y="746" width="1" height="2" fill="#c0c0c0"/>
<rect x="582" y="742" width="1" height="5" fill="#c0c0c0"/>
<rect x="586" y="739" width="1" height="8" fill="#c0c0c0"/>
<rect x="590" y="737" width="1" height="10" fill="#c0c0c0"/>
<rect x="594" y="736" width="1" height="11" fill="#c0c0c0"/>
<rect x="598" y="732" width="1" height="15" fill="#c0c0c0"/>
<rect x="602" y="726" width="1" height="21" fill="#c0c0c0"/>
<rect x="606" y="725" width="1" height="22" fill="#c0c0c0"/>
<rect x="610" y="726" width="1" height="21" fill="#c0c0c0"/>
<rect x="614" y="728" width="1" height="19" fill="#c0c0c0"/>
<rect x="618" y="728" width="1" height="19" fill="#c0c0c0"/>
<rect x="622" y="729" width="1" height="18" fill="#c0c0c0"/>
<rect x="626" y="725" width="1" height="22" fill="#c0c0c0"/>
<rect x="630" y="722" width="1" height="25" fill="#c0c0c0"/>
<rect x="634" y="722" width="1" height="25" fill="#c0c0c0"/>
<rect x="638" y="723" width="1" height="24" fill="#c0c0c0"/>
<rect x="642" y="722" width="1" height="25" fill="#c0c0c0"/>
<rect x="646" y="720" width="1" height="27" fill="#c0c0c0"/>
<rect x="650" y="722" width="1" height="25" fill="#c0c0c0"/>
<rect x="654" y="722" width="1" height="25" fill="#c0c0c0"/>
<rect x="658" y="722" width="1" height="25" fill="#c0c0c0"/>
<rect x="662" y="723" width="1" height="24" fill="#c0c0c0"/>
<rect x="666" y="725" width="1" height="22" fill="#c0c0c0"/>
<rect x="670" y="727" width="1" height="20" fill="#c0c0c0"/>
<rect x="674" y="727" width="1" height="20" fill="#c0c0c0"/>
<rect x="678" y="728" width="1" height="19" fill="#c0c0c0"/>
<rect x="682" y="729" width="1" height="18" fill="#c0c0c0"/>
<rect x="686" y="729" width="1" height="18" fill="#c0c0c0"/>
<rect x="690" y="729" width="1" height="18" fill="#c0c0c0"/>
<rect x="694" y="728" width="1" height="19" fill="#c0c0c0"/>
<rect x="698" y="732" width="1" height="15" fill="#c0c0c0"/>
<rect x="702" y="736" width="1" height="11" fill="#c0c0c0"/>
<rect x="706" y="743" width="1" height="4" fill="#c0c0c0"/>
<rect x="710" y="746" width="1" height="3" fill="#c0c0c0"/>
<rect x="714" y="746" width="1" height="9" fill="#c0c0c0"/>
<rect x="718" y="746" width="1" height="13" fill="#c0c0c0"/>
<rect x="722" y="746" width="1" height="14" fill="#c0c0c0"/>
<rect x="726" y="746" width="1" height="13" fill="#c0c0c0"/>
<rect x="730" y="746" width="1" height="10" fill="#c0c0c0"/>
<rect x="734" y="746" width="1" height="6" fill="#c0c0c0"/>
<rect x="738" y="746" width="1" height="5" fill="#c0c0c0"/>
<rect x="742" y="746" width="1" height="4" fill="#c0c0c0"/>
<rect x="750" y="745" width="1" height="2" fill="#c0c0c0"/>
<rect x="754" y="744" width="1" height="3" fill="#c0c0c0"/>
<rect x="758" y="743" width="1" height="4" fill="#c0c0c0"/>
<rect x="762" y="742" width="1" height="5" fill="#c0c0c0"/>
<rect x="766" y="743" width="1" height="4" fill="#c0c0c0"/>
<rect x="770" y="742" width="1" height="5" fill="#c0c0c0"/>
<rect x="774" y="742" width="1" height="5" fill="#c0c0c0"/>
<rect x="778" y="742" width="1" height="5" fill="#c0c0c0"/>
<rect x="782" y="744" width="1" height="3" fill="#c0c0c0"/>
<rect x="786" y="744" width="1" height="3" fill="#c0c0c0"/>
<rect x="794" y="743" width="1" height="4" fill="#c0c0c0"/>
<rect x="798" y="740" width="1" height="7" fill="#c0c0c0"/>
<rect x="802" y="737" width="1" height="10" fill="#c0c0c0"/>
<rect x="806" y="735" width="1" height="12" fill="#c0c0c0"/>
<rect x="810" y="735" width="1" height="12" fill="#c0c0c0"/>
<rect x="814" y="734" width="1" height="13" fill="#c0c0c0"/>
<rect x="818" y="733" width="1" height="14" fill="#c0c0c0"/>
<rect x="822" y="735" width="1" height="12" fill="#c0c0c0"/>
<rect x="826" y="742" width="1" height="5" fill="#c0c0c0"/>
<rect x="830" y="746" width="1" height="3" fill="#c0c0c0"/>
<rect x="834" y="746" width="1" height="4" fill="#c0c0c0"/>
<rect x="838" y="746" width="1" height="7" fill="#c0c0c0"/>
<rect x="842" y="746" width="1" height="10" fill="#c0c0c0"/>
<rect x="846" y="746" width="1" height="15" fill="#c0c0c0"/>
<rect x="850" y="746" width="1" height="18" fill="#c0c0c0"/>
<rect x="854" y="746" width="1" height="22" fill="#c0c0c0"/>
<rect x="858" y="746" width="1" height="25" fill="#c0c0c0"/>
<rect x="862" y="746" width="1" height="29" fill="#c0c0c0"/>
<rect x="866" y="746" width="1" height="31" fill="#c0c0c0"/>
<rect x="870" y="746" width="1" height="32" fill="#c0c0c0"/>
<rect x="874" y="746" width="1" height="34" fill="#c0c0c0"/>
<rect x="878" y="746" width="1" height="36" fill="#c0c0c0"/>
<rect x="882" y="746" width="1" height="36" fill="#c0c0c0"/>
<rect x="886" y="746" width="1" height="35" fill="#c0c0c0"/>
<rect x="890" y="746" width="1" height="29" fill="#c0c0c0"/>
<rect x="894" y="746" width="1" height="25" fill="#c0c0c0"/>
<rect x="898" y="746" width="1" height="22" fill="#c0c0c0"/>
<rect x="902" y="746" width="1" height="20" fill="#c0c0c0"/>
<rect x="906" y="746" width="1" height="18" fill="#c0c0c0"/>
<rect x="910" y="746" width="1" height="15" fill="#c0c0c0"/>
<rect x="914" y="746" width="1" height="12" fill="#c0c0c0"/>
<rect x="918" y="746" width="1" height="9" fill="#c0c0c0"/>
<rect x="922" y="746" width="1" height="5" fill="#c0c0c0"/>
<rect x="930" y="744" width="1" height="3" fill="#c0c0c0"/>
<rect x="934" y="741" width="1" height="6" fill="#c0c0c0"/>
<rect x="938" y="738" width="1" height="9" fill="#c0c0c0"/>
<rect x="942" y="735" width="1" height="12" fill="#c0c0c0"/>
<rect x="946" y="735" width="1" height="12" fill="#c0c0c0"/>
<rect x="950" y="734" width="1" height="13" fill="#c0c0c0"/>
<rect x="954" y="735" width="1" height="12" fill="#c0c0c0"/>
<rect x="958" y="735" width="1" height="12" fill="#c0c0c0"/>
<rect x="962" y="731" width="1" height="16" fill="#c0c0c0"/>
<rect x="966" y="730" width="1" height="17" fill="#c0c0c0"/>
<rect x="970" y="728" width="1" height="19" fill="#c0c0c0"/>
<rect x="974" y="727" width="1" height="20" fill="#c0c0c0"/>
<rect x="978" y="725" width="1" height="22" fill="#c0c0c0"/>
<rect x="982" y="725" width="1" height="22" fill="#c0c0c0"/>
<rect x="986" y="725" width="1" height="22" fill="#c0c0c0"/>
<rect x="990" y="726" width="1" height="21" fill="#c0c0c0"/>
<rect x="994" y="727" width="1" height="20" fill="#c0c0c0"/>
<rect x="998" y="728" width="1" height="19" fill="#c0c0c0"/>
<rect x="1002" y="727" width="1" height="20" fill="#c0c0c0"/>
<rect x="1006" y="728" width="1" height="19" fill="#c0c0c0"/>
<rect x="1010" y="732" width="1" height="15" fill="#c0c0c0"/>
<rect x="1014" y="738" width="1" height="9" fill="#c0c0c0"/>
<rect x="1018" y="738" width="1" height="9" fill="#c0c0c0"/>
<rect x="1022" y="739" width="1" height="8" fill="#c0c0c0"/>
<rect x="1026" y="741" width="1" height="6" fill="#c0c0c0"/>
<rect x="1030" y="743" width="1" height="4" fill="#c0c0c0"/>
<rect x="1034" y="745" width="1" height="2" fill="#c0c0c0"/>
<rect x="1038" y="746" width="1" height="3" fill="#c0c0c0"/>
<rect x="1042" y="746" width="1" height="4" fill="#c0c0c0"/>
<rect x="1046" y="746" width="1" height="7" fill="#c0c0c0"/>
<rect x="1050" y="746" width="1" height="10" fill="#c0c0c0"/>
<rect x="1054" y="746" width="1" height="12" fill="#c0c0c0"/>
<rect x="1058" y="746" width="1" height="16" fill="#c0c0c0"/>
<rect x="1062" y="746" width="1" height="18" fill="#c0c0c0"/>
<rect x="1066" y="746" width="1" height="18" fill="#c0c0c0"/>
<rect x="1070" y="746" width="1" height="17" fill="#c0c0c0"/>
<rect x="1074" y="746" width="1" height="16" fill="#c0c0c0"/>
<rect x="1078" y="746" width="1" height="16" fill="#c0c0c0"/>
<rect x="1082" y="746" width="1" height="15" fill="#c0c0c0"/>
<rect x="1086" y="746" width="1" height="17" fill="#c0c0c0"/>
<rect x="1090" y="746" width="1" height="20" fill="#c0c0c0"/>
<rect x="1094" y="746" width="1" height="23" fill="#c0c0c0"/>
<rect x="1098" y="746" width="1" height="25" fill="#c0c0c0"/>
<rect x="1102" y="746" width="1" height="32" fill="#c0c0c0"/>
<rect x="1106" y="746" width="1" height="36" fill="#c0c0c0"/>
<rect x="1110" y="746" width="1" height="39" fill="#c0c0c0"/>
<rect x="1114" y="746" width="1" height="40" fill="#c0c0c0"/>
<rect x="1118" y="746" width="1" height="41" fill="#c0c0c0"/>
<rect x="1122" y="746" width="1" height="42" fill="#c0c0c0"/>
<rect x="1126" y="746" width="1" height="40" fill="#c0c0c0"/>
<rect x="1130" y="746" width="1" height="37" fill="#c0c0c0"/>
<rect x="1134" y="746" width="1" height="30" fill="#c0c0c0"/>
<rect x="1138" y="746" width="1" height="28" fill="#c0c0c0"/>
<rect x="1142" y="746" width="1" height="25" fill="#c0c0c0"/>
<rect x="1146" y="746" width="1" height="23" fill="#c0c0c0"/>
<rect x="1150" y="746" width="1" height="20" fill="#c0c0c0"/>
<rect x="1154" y="746" width="1" height="19" fill="#c0c0c0"/>
<rect x="1158" y="746" width="1" height="18" fill="#c0c0c0"/>
<rect x="1162" y="746" width="1" height="16" fill="#c0c0c0"/>
<rect x="1166" y="746" width="1" height="14" fill="#c0c0c0"/>
<rect x="1170" y="746" width="1" height="13" fill="#c0c0c0"/>
<rect x="1174" y="746" width="1" height="12" fill="#c0c0c0"/>
<rect x="1178" y="746" width="1" height="7" fill="#c0c0c0"/>
<rect x="1182" y="746" width="1" height="3" fill="#c0c0c0"/>
<rect x="1186" y="744" width="1" height="3" fill="#c0c0c0"/>
<rect x="1190" y="742" width="1" height="5" fill="#c0c0c0"/>
<rect x="1194" y="738" width="1" height="9" fill="#c0c0c0"/>
<rect x="1198" y="734" width="1" height="13" fill="#c0c0c0"/>
<rect x="1202" y="731" width="1" height="16" fill="#c0c0c0"/>
<rect x="1206" y="727" width="1" height="20" fill="#c0c0c0"/>
<rect x="1210" y="724" width="1" height="23" fill="#c0c0c0"/>
<rect x="1214" y="722" width="1" height="25" fill="#c0c0c0"/>
<rect x="1218" y="719" width="1" height="28" fill="#c0c0c0"/>
<rect x="1222" y="716" width="1" height="31" fill="#c0c0c0"/>
<rect x="1226" y="713" width="1" height="34" fill="#c0c0c0"/>
<rect x="1230" y="711" width="1" height="36" fill="#c0c0c0"/>
<rect x="1234" y="710" width="1" height="37" fill="#c0c0c0"/>
<rect x="1238" y="709" width="1" height="38" fill="#c0c0c0"/>
<rect x="1242" y="708" width="1" height="39" fill="#c0c0c0"/>
<rect x="1246" y="710" width="1" height="37" fill="#c0c0c0"/>
<rect x="1250" y="712" width="1" height="35" fill="#c0c0c0"/>
<rect x="1254" y="715" width="1" height="32" fill="#c0c0c0"/>
<rect x="1258" y="718" width="1" height="29" fill="#c0c0c0"/>
<rect x="1262" y="720" width="1" height="27" fill="#c0c0c0"/>
<rect x="1266" y="723" width="1" height="24" fill="#c0c0c0"/>
<rect x="1270" y="725" width="1" height="22" fill="#c0c0c0"/>
<rect x="1274" y="728" width="1" height="19" fill="#c0c0c0"/>
<rect x="1278" y="730" width="1" height="17" fill="#c0c0c0"/>
<rect x="1282" y="733" width="1" height="14" fill="#c0c0c0"/>
<rect x="1286" y="736" width="1" height="11" fill="#c0c0c0"/>
<rect x="1290" y="735" width="1" height="12" fill="#c0c0c0"/>
<rect x="1294" y="734" width="1" height="13" fill="#c0c0c0"/>
<rect x="1298" y="732" width="1" height="15" fill="#c0c0c0"/>
<rect x="1302" y="729" width="1" height="18" fill="#c0c0c0"/>
<path d="M269 731.5h2M304 731.5h3M310 731.5h3M705 731.5h2M1022 731.5h2M1298 731.5h3M250 739.5h2M352 739.5h3M365 739.5h2M370 739.5h2M394 739.5h2M602 739.5h2M956 739.5h2M669 723.5h2M674 723.5h3M346 738.5h3M818 738.5h3M830 738.5h3M633 726.5h2M686 726.5h3M1004 726.5h3M1287 726.5h2M453 768.5h2M1107 768.5h2M1082 760.5h3M915 767.5h2M1166 767.5h2M1244 714.5h2M1262 713.5h3M1124 779.5h2M50 756.5h2M130 727.5h3M154 727.5h3M160 727.5h3M692 727.5h3M993 727.5h2M998 727.5h3M1010 727.5h3M184 734.5h2M262 734.5h2M969 734.5h2M1028 734.5h2M329 735.5h2M711 735.5h2M429 766.5h3M435 766.5h3M441 766.5h3M447 766.5h2M567 766.5h2M178 732.5h3M316 732.5h3M614 732.5h3M974 732.5h3M741 754.5h2M1064 754.5h2M471 785.5h2M542 785.5h2M209 743.5h2M596 743.5h2M777 743.5h2M782 743.5h3M788 743.5h3M794 743.5h3M842 743.5h2M1046 743.5h2M197 740.5h2M358 740.5h3M813 740.5h2M837 740.5h2M1040 740.5h2M591 746.5h2M765 746.5h2M1250 712.5h3M1256 712.5h3M734 751.5h2M753 751.5h2M1059 751.5h2M32 752.5h3M38 752.5h2M244 742.5h2M801 742.5h2M950 742.5h2M1274 718.5h2M884 775.5h2M902 775.5h2M221 745.5h2M226 745.5h3M770 745.5h3M897 776.5h2M1119 776.5h2M274 729.5h3M280 729.5h3M286 729.5h3M986 729.5h3M1016 729.5h2M1293 729.5h2M190 737.5h2M341 737.5h2M376 737.5h3M389 737.5h2M824 737.5h3M962 737.5h2M1034 737.5h2M1148 778.5h2M878 772.5h2M908 772.5h2M548 782.5h2M1130 782.5h3M1136 782.5h3M867 764.5h2M1172 764.5h2M172 730.5h2M292 730.5h3M298 730.5h3M621 730.5h2M981 730.5h2M1154 774.5h2M758 749.5h2M939 749.5h2M322 733.5h3M1215 733.5h2M15 759.5h2M57 759.5h2M62 759.5h3M1076 759.5h2M26 753.5h3M746 753.5h3M1191 753.5h2M124 724.5h2M645 724.5h2M650 724.5h3M1227 724.5h2M638 725.5h3M681 725.5h2M136 728.5h3M142 728.5h3M148 728.5h3M166 728.5h3M626 728.5h3M698 728.5h2M214 744.5h3M233 744.5h2M238 744.5h3M723 744.5h2M418 762.5h2M1089 762.5h2M555 777.5h2M890 777.5h3M68 757.5h2M1070 757.5h3M927 758.5h2M118 722.5h3M657 722.5h2M662 722.5h3M256 736.5h2M334 736.5h3M382 736.5h3M1142 781.5h2M1094 763.5h3M482 793.5h2M518 793.5h2M112 720.5h3M530 789.5h3M488 796.5h2M506 796.5h3M424 765.5h2M1101 765.5h2M202 741.5h3M806 741.5h3M106 721.5h3M1238 717.5h2M45 755.5h2M525 790.5h2M494 798.5h3M1178 761.5h2M1268 715.5h2M501 797.5h2M536 787.5h2M513 794.5h2M1112 771.5h2M1292.5 728v1M8.5 766v1M850.5 749v1M1270.5 716v1M1204.5 743v1M1210.5 738v1M470.5 784v1M609.5 735v1M1185.5 757v1M1186.5 756v1M186.5 735v1M14.5 760v1M1208.5 740v1M477.5 789v1M632.5 727v1M1198.5 748v1M405.5 749v1M1184.5 758v1M89.5 735v1M604.5 738v1M1024.5 732v1M411.5 755v1M1100.5 764v1M1196.5 750v1M1190.5 754v1M680.5 724v1M400.5 743v1M1114.5 772v1M512.5 795v1M85.5 740v1M196.5 739v1M461.5 774v1M4.5 770v1M478.5 790v1M538.5 786v1M562.5 771v1M81.5 745v1M848.5 747v1M102.5 722v1M364.5 740v1M800.5 743v1M2.5 772v1M80.5 746v2M417.5 761v1M372.5 738v1M1161.5 770v1M1221.5 729v1M95.5 728v1M52.5 757v1M1018.5 730v1M413.5 757v1M76.5 751v1M1168.5 766v1M174.5 731v1M922.5 762v1M328.5 734v1M554.5 778v1M1160.5 771v1M208.5 742v1M91.5 733v1M94.5 729v1M945.5 745v1M1209.5 739v1M1226.5 725v1M232.5 745v1M920.5 764v1M866.5 763v1M921.5 763v1M1058.5 750v1M926.5 759v1M70.5 756v1M1052.5 746v1M476.5 788v1M90.5 734v1M459.5 772v1M524.5 791v1M904.5 774v1M1276.5 719v1M760.5 748v1M1197.5 749v1M776.5 744v1M1174.5 763v1M264.5 733v1M465.5 778v1M1203.5 744v1M1202.5 745v1M460.5 773v1M86.5 739v1M1126.5 780v1M1180.5 760v1M874.5 769v1M964.5 736v1M586.5 750v1M740.5 753v1M484.5 794v1M1053.5 747v1M668.5 722v1M3.5 771v1M1054.5 748v1M700.5 729v1M1048.5 744v1M10.5 764v1M401.5 744v1M466.5 779v1M574.5 760v1M1280.5 721v1M40.5 753v1M580.5 755v1M656.5 723v1M96.5 727v1M1106.5 767v1M764.5 747v1M467.5 780v1M812.5 741v1M896.5 777v1M573.5 761v1M578.5 757v1M560.5 773v1M100.5 724v1M946.5 744v1M728.5 747v1M1281.5 722v1M246.5 741v1M423.5 764v1M872.5 767v1M1036.5 738v1M566.5 767v1M1156.5 773v1M252.5 738v1M722.5 743v1M1220.5 730v1M396.5 740v1M388.5 736v1M1282.5 723v1M74.5 753v1M854.5 752v1M75.5 752v1M1234.5 719v1M729.5 748v1M952.5 741v1M449.5 767v1M844.5 744v1M620.5 731v1M944.5 746v1M855.5 753v1M644.5 725v1M958.5 738v1M873.5 768v1M22.5 754v1M704.5 730v1M1233.5 720v1M730.5 749v1M910.5 771v1M544.5 784v1M861.5 759v1M836.5 739v1M1214.5 734v1M933.5 754v1M192.5 738v1M84.5 741v1M1162.5 769v1M598.5 742v1M1118.5 775v1M590.5 747v1M21.5 755v1M579.5 756v1M1066.5 755v1M585.5 751v1M490.5 797v1M1030.5 735v1M56.5 758v1M1286.5 725v1M1088.5 761v1M1078.5 760v1M862.5 760v1M268.5 732v1M455.5 769v1M9.5 765v1M584.5 752v1M340.5 736v1M572.5 762v1M220.5 744v1M968.5 735v1M610.5 734v1M608.5 736v1M500.5 798v1M406.5 750v1M1144.5 780v1M992.5 728v1M1042.5 741v1M1150.5 777v1M716.5 738v1M880.5 773v1M934.5 753v1M860.5 758v1M752.5 752v1M1240.5 716v1M258.5 735v1M710.5 734v1M44.5 754v1M932.5 755v1M1232.5 721v1M849.5 748v1M407.5 751v1M938.5 750v1M856.5 754v1M126.5 725v1M412.5 756v1M886.5 776v1M561.5 772v1M914.5 768v1M717.5 739v1M550.5 781v1M736.5 752v1M101.5 723v1M20.5 756v1M402.5 745v1M1222.5 728v1M1246.5 713v1M980.5 731v1M520.5 792v1M718.5 740v1" fill="none" stroke="#ff0000" stroke-width="1"/>
<rect x="2" y="806" width="1" height="3" fill="#000"/>
<rect x="66" y="806" width="1" height="3" fill="#000"/>
<rect x="130" y="806" width="1" height="3" fill="#000"/>
<rect x="194" y="806" width="1" height="3" fill="#000"/>
<rect x="258" y="806" width="1" height="3" fill="#000"/>
<rect x="322" y="806" width="1" height="3" fill="#000"/>
<rect x="386" y="806" width="1" height="3" fill="#000"/>
<rect x="450" y="806" width="1" height="3" fill="#000"/>
<rect x="514" y="806" width="1" height="3" fill="#000"/>
<rect x="578" y="806" width="1" height="3" fill="#000"/>
<rect x="642" y="806" width="1" height="3" fill="#000"/>
<rect x="706" y="806" width="1" height="3" fill="#000"/>
<rect x="770" y="806" width="1" height="3" fill="#000"/>
<rect x="834" y="806" width="1" height="3" fill="#000"/>
<rect x="898" y="806" width="1" height="3" fill="#000"/>
<rect x="962" y="806" width="1" height="3" fill="#000"/>
<rect x="1026" y="806" width="1" height="3" fill="#000"/>
<rect x="1090" y="806" width="1" height="3" fill="#000"/>
<rect x="1154" y="806" width="1" height="3" fill="#000"/>
<rect x="1218" y="806" width="1" height="3" fill="#000"/>
<rect x="1282" y="806" width="1" height="3" fill="#000"/>
</g>
<g font-family="Liberation Sans, sans-serif">
<g shape-rendering="crispEdges">
<rect x="1639" y="30" width="2" height="1" fill="#000"/>
<rect x="1639" y="63" width="2" height="1" fill="#000"/>
<rect x="1639" y="96" width="2" height="1" fill="#000"/>
<rect x="1639" y="129" width="2" height="1" fill="#000"/>
<rect x="1639" y="162" width="2" height="1" fill="#000"/>
<rect x="1639" y="195" width="2" height="1" fill="#000"/>
<rect x="1639" y="228" width="2" height="1" fill="#000"/>
<rect x="1639" y="261" width="2" height="1" fill="#000"/>
<rect x="1639" y="294" width="2" height="1" fill="#000"/>
<rect x="1639" y="327" width="2" height="1" fill="#000"/>
<rect x="1639" y="360" width="2" height="1" fill="#000"/>
<rect x="1639" y="393" width="2" height="1" fill="#000"/>
<rect x="1639" y="425" width="2" height="1" fill="#000"/>
<rect x="1639" y="459" width="2" height="1" fill="#000"/>
<rect x="1639" y="492" width="2" height="1" fill="#000"/>
<rect x="1639" y="558" width="2" height="1" fill="#000"/>
<rect x="1639" y="591" width="2" height="1" fill="#000"/>
</g>
<text transform="translate(1644.3,34) scale(1,1.12)" font-size="9.1" fill="#000" text-anchor="start" >1.35930</text>
<text transform="translate(1644.3,67) scale(1,1.12)" font-size="9.1" fill="#000" text-anchor="start" >1.35550</text>
<text transform="translate(1644.3,100) scale(1,1.12)" font-size="9.1" fill="#000" text-anchor="start" >1.35160</text>
<text transform="translate(1644.3,133) scale(1,1.12)" font-size="9.1" fill="#000" text-anchor="start" >1.34780</text>
<text transform="translate(1644.3,166) scale(1,1.12)" font-size="9.1" fill="#000" text-anchor="start" >1.34390</text>
<text transform="translate(1644.3,199) scale(1,1.12)" font-size="9.1" fill="#000" text-anchor="start" >1.34000</text>
<text transform="translate(1644.3,232) scale(1,1.12)" font-size="9.1" fill="#000" text-anchor="start" >1.33620</text>
<text transform="translate(1644.3,265) scale(1,1.12)" font-size="9.1" fill="#000" text-anchor="start" >1.33230</text>
<text transform="translate(1644.3,298) scale(1,1.12)" font-size="9.1" fill="#000" text-anchor="start" >1.32850</text>
<text transform="translate(1644.3,331) scale(1,1.12)" font-size="9.1" fill="#000" text-anchor="start" >1.32460</text>
<text transform="translate(1644.3,364) scale(1,1.12)" font-size="9.1" fill="#000" text-anchor="start" >1.32080</text>
<text transform="translate(1644.3,397) scale(1,1.12)" font-size="9.1" fill="#000" text-anchor="start" >1.31690</text>
<text transform="translate(1644.3,429) scale(1,1.12)" font-size="9.1" fill="#000" text-anchor="start" >1.31310</text>
<text transform="translate(1644.3,463) scale(1,1.12)" font-size="9.1" fill="#000" text-anchor="start" >1.30920</text>
<text transform="translate(1644.3,496) scale(1,1.12)" font-size="9.1" fill="#000" text-anchor="start" >1.30530</text>
<text transform="translate(1644.3,562) scale(1,1.12)" font-size="9.1" fill="#000" text-anchor="start" >1.29760</text>
<text transform="translate(1644.3,595) scale(1,1.12)" font-size="9.1" fill="#000" text-anchor="start" >1.29380</text>
<rect x="1640" y="52.0" width="38" height="11" fill="#ff0000" shape-rendering="crispEdges"/>
<text transform="translate(1644.3,61.0) scale(1,1.12)" font-size="9.1" fill="#fff" text-anchor="start" >1.35606</text>
<rect x="1640" y="172.0" width="38" height="11" fill="#ff0000" shape-rendering="crispEdges"/>
<text transform="translate(1644.3,181.0) scale(1,1.12)" font-size="9.1" fill="#fff" text-anchor="start" >1.34206</text>
<rect x="1640" y="243.0" width="38" height="11" fill="#000000" shape-rendering="crispEdges"/>
<text transform="translate(1644.3,252.0) scale(1,1.12)" font-size="9.1" fill="#fff" text-anchor="start" >1.33386</text>
<rect x="1640" y="274.0" width="38" height="11" fill="#00ff00" shape-rendering="crispEdges"/>
<text transform="translate(1644.3,283.0) scale(1,1.12)" font-size="9.1" fill="#fff" text-anchor="start" >1.33011</text>
<rect x="1640" y="412.0" width="38" height="11" fill="#0000ff" shape-rendering="crispEdges"/>
<text transform="translate(1644.3,421.0) scale(1,1.12)" font-size="9.1" fill="#fff" text-anchor="start" >1.31405</text>
<rect x="1640" y="519.0" width="38" height="11" fill="#0000ff" shape-rendering="crispEdges"/>
<text transform="translate(1644.3,528.0) scale(1,1.12)" font-size="9.1" fill="#fff" text-anchor="start" >1.30152</text>
<g shape-rendering="crispEdges">
<rect x="1639" y="598" width="2" height="1" fill="#000"/>
<rect x="1639" y="628" width="2" height="1" fill="#000"/>
<rect x="1639" y="669" width="2" height="1" fill="#000"/>
<rect x="1639" y="699" width="2" height="1" fill="#000"/>
<rect x="1639" y="704" width="2" height="1" fill="#000"/>
<rect x="1639" y="746" width="2" height="1" fill="#000"/>
<rect x="1639" y="804" width="2" height="1" fill="#000"/>
</g>
<text transform="translate(1641.5,607) scale(1,1.12)" font-size="9" fill="#000" text-anchor="start" >100</text>
<text transform="translate(1642,632) scale(1,1.12)" font-size="9" fill="#000" text-anchor="start" >70</text>
<text transform="translate(1642,673) scale(1,1.12)" font-size="9" fill="#000" text-anchor="start" >30</text>
<text transform="translate(1642,697) scale(1,1.12)" font-size="9" fill="#000" text-anchor="start" >0</text>
<text transform="translate(1642,713) scale(1,1.12)" font-size="9" fill="#000" text-anchor="start" >0.006448</text>
<text transform="translate(1642,750) scale(1,1.12)" font-size="9" fill="#000" text-anchor="start" >0.00</text>
<text transform="translate(1642,803) scale(1,1.12)" font-size="9" fill="#000" text-anchor="start" >-0.00898</text>
<path d="M5 34 L12 34 L8.5 38 Z" fill="#000"/>
<text transform="translate(17,39) scale(1,1.12)" font-size="9.1" fill="#000"><tspan font-size="9.3" letter-spacing="0.33">USDCAD,Daily</tspan><tspan dx="6.3">1.33010 1.33459 1.32981 1.33386</tspan></text>
<text transform="translate(6,609) scale(1,1.12)" font-size="9.3" fill="#000" text-anchor="start" >RSI(14) 69.9585</text>
<text transform="translate(6,715) scale(1,1.12)" font-size="9.35" fill="#000" text-anchor="start" >MACD(12,26,9) 0.002640 0.002274</text>
<text transform="translate(1.7,818) scale(1,1.12)" font-size="9.35" fill="#000" text-anchor="start" >13 Feb 2019</text>
<text transform="translate(65.7,818) scale(1,1.12)" font-size="9.35" fill="#000" text-anchor="start" >4 Mar 2019</text>
<text transform="translate(129.7,818) scale(1,1.12)" font-size="9.35" fill="#000" text-anchor="start" >22 Mar 2019</text>
<text transform="translate(193.7,818) scale(1,1.12)" font-size="9.35" fill="#000" text-anchor="start" >10 Apr 2019</text>
<text transform="translate(257.7,818) scale(1,1.12)" font-size="9.35" fill="#000" text-anchor="start" >29 Apr 2019</text>
<text transform="translate(321.7,818) scale(1,1.12)" font-size="9.35" fill="#000" text-anchor="start" >17 May 2019</text>
<text transform="translate(385.7,818) scale(1,1.12)" font-size="9.35" fill="#000" text-anchor="start" >5 Jun 2019</text>
<text transform="translate(449.7,818) scale(1,1.12)" font-size="9.35" fill="#000" text-anchor="start" >24 Jun 2019</text>
<text transform="translate(513.7,818) scale(1,1.12)" font-size="9.35" fill="#000" text-anchor="start" >12 Jul 2019</text>
<text transform="translate(577.7,818) scale(1,1.12)" font-size="9.35" fill="#000" text-anchor="start" >31 Jul 2019</text>
<text transform="translate(641.7,818) scale(1,1.12)" font-size="9.35" fill="#000" text-anchor="start" >19 Aug 2019</text>
<text transform="translate(705.7,818) scale(1,1.12)" font-size="9.35" fill="#000" text-anchor="start" >6 Sep 2019</text>
<text transform="translate(769.7,818) scale(1,1.12)" font-size="9.35" fill="#000" text-anchor="start" >25 Sep 2019</text>
<text transform="translate(833.7,818) scale(1,1.12)" font-size="9.35" fill="#000" text-anchor="start" >14 Oct 2019</text>
<text transform="translate(897.7,818) scale(1,1.12)" font-size="9.35" fill="#000" text-anchor="start" >1 Nov 2019</text>
<text transform="translate(961.7,818) scale(1,1.12)" font-size="9.35" fill="#000" text-anchor="start" >20 Nov 2019</text>
<text transform="translate(1025.7,818) scale(1,1.12)" font-size="9.35" fill="#000" text-anchor="start" >9 Dec 2019</text>
<text transform="translate(1089.7,818) scale(1,1.12)" font-size="9.35" fill="#000" text-anchor="start" >27 Dec 2019</text>
<text transform="translate(1153.7,818) scale(1,1.12)" font-size="9.35" fill="#000" text-anchor="start" >15 Jan 2020</text>
<text transform="translate(1217.7,818) scale(1,1.12)" font-size="9.35" fill="#000" text-anchor="start" >3 Feb 2020</text>
<text transform="translate(1281.7,818) scale(1,1.12)" font-size="9.35" fill="#000" text-anchor="start" >21 Feb 2020</text>
</g>
</svg>
<svg width="1678" height="853" viewBox="0 0 1678 853" style="position:absolute;left:0;top:0;display:block" font-family="Liberation Sans, sans-serif">
<g shape-rendering="crispEdges">
<rect x="70" y="0" width="1" height="23" fill="#a0a0a0"/><rect x="71" y="0" width="1" height="23" fill="#ffffff"/>
<rect x="74" y="1" width="3" height="1" fill="#a8a8a8"/>
<rect x="74" y="3" width="3" height="1" fill="#a8a8a8"/>
<rect x="74" y="5" width="3" height="1" fill="#a8a8a8"/>
<rect x="74" y="7" width="3" height="1" fill="#a8a8a8"/>
<rect x="74" y="9" width="3" height="1" fill="#a8a8a8"/>
<rect x="74" y="11" width="3" height="1" fill="#a8a8a8"/>
<rect x="74" y="13" width="3" height="1" fill="#a8a8a8"/>
<rect x="74" y="15" width="3" height="1" fill="#a8a8a8"/>
<rect x="74" y="17" width="3" height="1" fill="#a8a8a8"/>
<rect x="74" y="19" width="3" height="1" fill="#a8a8a8"/>
<rect x="249" y="0" width="24" height="21" fill="#f8f8f8"/><rect x="248" y="0" width="1" height="21" fill="#a0a0a0"/><rect x="273" y="0" width="1" height="22" fill="#ffffff"/><rect x="248" y="21" width="26" height="1" fill="#ffffff"/>
<rect x="331" y="0" width="1" height="23" fill="#a0a0a0"/><rect x="332" y="0" width="1" height="23" fill="#ffffff"/>
</g>
<g shape-rendering="crispEdges" fill="#555555">
<rect x="12" y="5" width="1" height="1"/><rect x="11" y="17" width="1" height="1"/>
<rect x="14" y="5" width="1" height="1"/><rect x="13" y="17" width="1" height="1"/>
<rect x="16" y="5" width="1" height="1"/><rect x="15" y="17" width="1" height="1"/>
<rect x="18" y="5" width="1" height="1"/><rect x="17" y="17" width="1" height="1"/>
<rect x="20" y="5" width="1" height="1"/><rect x="19" y="17" width="1" height="1"/>
<rect x="22" y="5" width="1" height="1"/><rect x="21" y="17" width="1" height="1"/>
<rect x="11" y="7" width="1" height="1"/><rect x="22" y="7" width="1" height="1"/>
<rect x="11" y="9" width="1" height="1"/><rect x="22" y="9" width="1" height="1"/>
<rect x="11" y="11" width="1" height="1"/><rect x="22" y="11" width="1" height="1"/>
<rect x="11" y="13" width="1" height="1"/><rect x="22" y="13" width="1" height="1"/>
<rect x="11" y="15" width="1" height="1"/><rect x="22" y="15" width="1" height="1"/>
<rect x="10" y="4" width="2" height="1"/>
<rect x="13" y="8" width="8" height="1"/><rect x="16" y="9" width="2" height="7"/>
</g>
<path d="M38 9 L41.5 5 L45 9 Z" fill="#555"/><path d="M45 14 L48.5 18 L52 14 Z" fill="#555"/><path d="M40.2 12.6 L42.6 14.8 L46.8 9.2" fill="none" stroke="#555" stroke-width="1.4"/>
<path d="M59 10 L64.4 10 L61.7 13 Z" fill="#111"/>
<text transform="translate(85,15) scale(1,1.15)" font-size="9.4" fill="#404040">M1</text>
<text transform="translate(113,15) scale(1,1.15)" font-size="9.4" fill="#404040">M5</text>
<text transform="translate(139,15) scale(1,1.15)" font-size="9.4" fill="#404040">M15</text>
<text transform="translate(167,15) scale(1,1.15)" font-size="9.4" fill="#404040">M30</text>
<text transform="translate(198.5,15) scale(1,1.15)" font-size="9.4" fill="#404040">H1</text>
<text transform="translate(225.5,15) scale(1,1.15)" font-size="9.4" fill="#404040">H4</text>
<text transform="translate(255,15) scale(1,1.15)" font-size="9.4" fill="#404040">D1</text>
<text transform="translate(282,15) scale(1,1.15)" font-size="9.4" fill="#404040">W1</text>
<text transform="translate(308.5,15) scale(1,1.15)" font-size="9.4" fill="#404040">MN</text>
<g shape-rendering="crispEdges">
<rect x="299" y="828" width="104" height="19" fill="#ffffff"/>
<rect x="299" y="828" width="1" height="19" fill="#000"/><rect x="402" y="828" width="1" height="19" fill="#000"/><rect x="299" y="846" width="104" height="1" fill="#000"/>
<rect x="107" y="832" width="1" height="13" fill="#808080"/>
<rect x="208" y="832" width="1" height="13" fill="#808080"/>
<rect x="507" y="832" width="1" height="13" fill="#808080"/>
<rect x="611" y="832" width="1" height="13" fill="#808080"/>
<rect x="715" y="832" width="1" height="13" fill="#808080"/>
<rect x="807" y="832" width="1" height="13" fill="#808080"/>
<rect x="877" y="832" width="1" height="13" fill="#808080"/>
<rect x="972" y="832" width="1" height="13" fill="#808080"/>
</g>
<text transform="translate(15,843) scale(1,1.0)" font-size="12" fill="#707070">EURUSD,Daily</text>
<text transform="translate(117,843) scale(1,1.0)" font-size="12" fill="#707070">USDCHF,Daily</text>
<text transform="translate(218,843) scale(1,1.0)" font-size="12" fill="#707070">AUDUSD,H4</text>
<text transform="translate(310.5,843) scale(1,1.0)" font-size="12" fill="#000000">USDCAD,Daily</text>
<text transform="translate(413,843) scale(1,1.0)" font-size="12" fill="#707070">USDCNH,Daily</text>
<text transform="translate(519,843) scale(1,1.0)" font-size="12" fill="#707070">EURUSD,Daily</text>
<text transform="translate(623,843) scale(1,1.0)" font-size="12" fill="#707070">GBPUSD,Daily</text>
<text transform="translate(727,843) scale(1,1.0)" font-size="12" fill="#707070">XAUUSD,H1</text>
<text transform="translate(818,843) scale(1,1.0)" font-size="12" fill="#707070">HK50,H1</text>
<text transform="translate(889,843) scale(1,1.0)" font-size="12" fill="#707070">UK100,Daily</text>
<path d="M1658 833 L1654 837 L1658 841 Z" fill="#a0a0a0"/><path d="M1672 833 L1676 837 L1672 841 Z" fill="#a0a0a0"/>
</svg>
</body></html>
